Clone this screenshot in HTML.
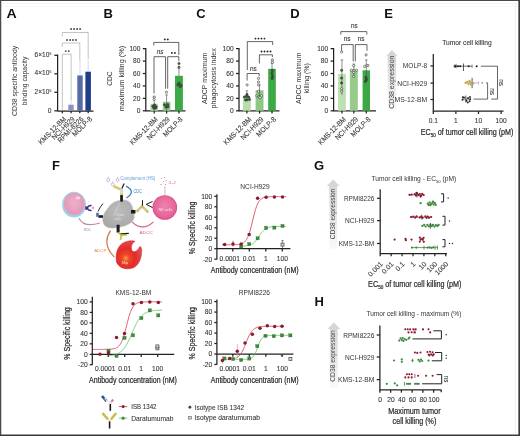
<!DOCTYPE html>
<html><head><meta charset="utf-8"><style>
html,body{margin:0;padding:0;background:#fff;}
svg{display:block;will-change:transform;}
text{font-family:"Liberation Sans", sans-serif;}
</style></head><body>
<svg width="520" height="436" viewBox="0 0 520 436" font-family='"Liberation Sans", sans-serif'>
<rect x="0.00" y="0.00" width="520.00" height="436.00" fill="#fff"/>
<line x1="1.00" y1="3.50" x2="517.00" y2="3.50" stroke="#f1f1f1" stroke-width="0.8"/>
<line x1="1.00" y1="6.20" x2="517.00" y2="6.20" stroke="#f6f6f6" stroke-width="0.8"/>
<line x1="515.50" y1="3.00" x2="515.50" y2="434.00" stroke="#ececec" stroke-width="0.8"/>
<line x1="0.00" y1="0.50" x2="520.00" y2="0.50" stroke="#4a4a4a" stroke-width="1.2"/>
<line x1="0.60" y1="0.00" x2="0.60" y2="436.00" stroke="#4a4a4a" stroke-width="1.3"/>
<line x1="519.20" y1="0.00" x2="519.20" y2="436.00" stroke="#3a3a3a" stroke-width="1.7"/>
<line x1="0.00" y1="435.30" x2="520.00" y2="435.30" stroke="#3a3a3a" stroke-width="1.5"/>
<text x="6.4" y="17.7" font-size="13" font-weight="bold" fill="#111" stroke="none" textLength="10.2" lengthAdjust="spacingAndGlyphs">A</text>
<text x="0" y="0" font-size="7.6" fill="#333" stroke="#333" stroke-width="0.0" text-anchor="middle" transform="translate(17.20 80.90) rotate(-90) scale(0.9031 1)">CD38 specific antibody</text>
<text x="0" y="0" font-size="7.6" fill="#333" stroke="#333" stroke-width="0.0" text-anchor="middle" transform="translate(27.00 81.00) rotate(-90) scale(0.8936 1)">binding capacity</text>
<line x1="57.60" y1="54.50" x2="57.60" y2="111.30" stroke="#222" stroke-width="1.25"/>
<line x1="54.30" y1="110.80" x2="57.60" y2="110.80" stroke="#222" stroke-width="1.25"/>
<text x="51.30" y="113.18" font-size="6.6" fill="#333" stroke="#333" stroke-width="0.08" text-anchor="end">0</text>
<line x1="54.30" y1="92.30" x2="57.60" y2="92.30" stroke="#222" stroke-width="1.25"/>
<text x="51.4" y="93.90" font-size="6.6" fill="#333" stroke="#333" stroke-width="0.08" text-anchor="end">2×10<tspan font-size="3.5" dy="-2.2">5</tspan></text>
<line x1="54.30" y1="73.80" x2="57.60" y2="73.80" stroke="#222" stroke-width="1.25"/>
<text x="51.4" y="75.40" font-size="6.6" fill="#333" stroke="#333" stroke-width="0.08" text-anchor="end">4×10<tspan font-size="3.5" dy="-2.2">5</tspan></text>
<line x1="54.30" y1="55.30" x2="57.60" y2="55.30" stroke="#222" stroke-width="1.25"/>
<text x="51.4" y="56.90" font-size="6.6" fill="#333" stroke="#333" stroke-width="0.08" text-anchor="end">6×10<tspan font-size="3.5" dy="-2.2">5</tspan></text>
<line x1="57.60" y1="111.00" x2="93.50" y2="111.00" stroke="#222" stroke-width="1.25"/>
<line x1="62.30" y1="111.00" x2="62.30" y2="113.30" stroke="#222" stroke-width="1.25"/>
<line x1="71.10" y1="111.00" x2="71.10" y2="113.30" stroke="#222" stroke-width="1.25"/>
<line x1="79.80" y1="111.00" x2="79.80" y2="113.30" stroke="#222" stroke-width="1.25"/>
<line x1="88.20" y1="111.00" x2="88.20" y2="113.30" stroke="#222" stroke-width="1.25"/>
<path d="M62.30,110.50 L62.30,54.20 L71.10,54.20 L71.10,100.00" stroke="#9a9a9a" stroke-width="0.6" fill="none"/>
<path d="M62.30,47.00 L62.30,43.00 L79.80,43.00 L79.80,60.50" stroke="#9a9a9a" stroke-width="0.6" fill="none"/>
<path d="M62.30,36.50 L62.30,32.50 L88.20,32.50 L88.20,59.00" stroke="#9a9a9a" stroke-width="0.6" fill="none"/>
<circle cx="65.75" cy="51.10" r="0.95" fill="#444"/>
<circle cx="68.75" cy="51.10" r="0.95" fill="#444"/>
<circle cx="67.00" cy="40.00" r="0.95" fill="#444"/>
<circle cx="70.00" cy="40.00" r="0.95" fill="#444"/>
<circle cx="73.00" cy="40.00" r="0.95" fill="#444"/>
<circle cx="76.00" cy="40.00" r="0.95" fill="#444"/>
<circle cx="71.10" cy="29.00" r="0.95" fill="#444"/>
<circle cx="74.10" cy="29.00" r="0.95" fill="#444"/>
<circle cx="77.10" cy="29.00" r="0.95" fill="#444"/>
<circle cx="80.10" cy="29.00" r="0.95" fill="#444"/>
<rect x="68.30" y="104.70" width="5.40" height="6.10" fill="#8c94bc"/>
<rect x="77.30" y="75.40" width="5.40" height="35.40" fill="#5a6aa6"/>
<rect x="85.40" y="71.70" width="5.50" height="39.10" fill="#1f3d86"/>
<line x1="71.20" y1="104.30" x2="71.20" y2="99.50" stroke="#c8cce0" stroke-width="0.6"/>
<line x1="80.00" y1="75.40" x2="80.00" y2="60.00" stroke="#c8cce0" stroke-width="0.7"/>
<line x1="88.20" y1="71.70" x2="88.20" y2="60.00" stroke="#c8cce0" stroke-width="0.7"/>
<text x="66.60" y="119.60" font-size="7.3" fill="#333" stroke="#333" stroke-width="0.08" text-anchor="end" transform="rotate(-45 66.60 119.60)" textLength="35.94" lengthAdjust="spacingAndGlyphs">KMS-12-BM</text>
<text x="75.30" y="119.60" font-size="7.3" fill="#333" stroke="#333" stroke-width="0.08" text-anchor="end" transform="rotate(-45 75.30 119.60)" textLength="29.34" lengthAdjust="spacingAndGlyphs">NCI-H929</text>
<text x="84.00" y="119.60" font-size="7.3" fill="#333" stroke="#333" stroke-width="0.08" text-anchor="end" transform="rotate(-45 84.00 119.60)" textLength="33.38" lengthAdjust="spacingAndGlyphs">RPMI-8226</text>
<text x="92.50" y="119.60" font-size="7.3" fill="#333" stroke="#333" stroke-width="0.08" text-anchor="end" transform="rotate(-45 92.50 119.60)" textLength="24.57" lengthAdjust="spacingAndGlyphs">MOLP-8</text>
<text x="103.4" y="17.7" font-size="13" font-weight="bold" fill="#111" stroke="none">B</text>
<text x="0" y="0" font-size="8.0" fill="#333" stroke="#333" stroke-width="0.0" text-anchor="middle" transform="translate(112.40 78.60) rotate(-90) scale(0.8194 1)">CDC</text>
<text x="0" y="0" font-size="8.0" fill="#333" stroke="#333" stroke-width="0.0" text-anchor="middle" transform="translate(124.30 78.60) rotate(-90) scale(0.9153 1)">maximum killing (%)</text>
<line x1="145.80" y1="48.00" x2="145.80" y2="111.30" stroke="#222" stroke-width="1.25"/>
<line x1="142.80" y1="110.80" x2="145.80" y2="110.80" stroke="#222" stroke-width="1.25"/>
<text x="140.40" y="113.18" font-size="6.6" fill="#333" stroke="#333" stroke-width="0.08" text-anchor="end">0</text>
<line x1="142.80" y1="98.37" x2="145.80" y2="98.37" stroke="#222" stroke-width="1.25"/>
<text x="140.40" y="100.75" font-size="6.6" fill="#333" stroke="#333" stroke-width="0.08" text-anchor="end">20</text>
<line x1="142.80" y1="85.94" x2="145.80" y2="85.94" stroke="#222" stroke-width="1.25"/>
<text x="140.40" y="88.32" font-size="6.6" fill="#333" stroke="#333" stroke-width="0.08" text-anchor="end">40</text>
<line x1="142.80" y1="73.51" x2="145.80" y2="73.51" stroke="#222" stroke-width="1.25"/>
<text x="140.40" y="75.89" font-size="6.6" fill="#333" stroke="#333" stroke-width="0.08" text-anchor="end">60</text>
<line x1="142.80" y1="61.08" x2="145.80" y2="61.08" stroke="#222" stroke-width="1.25"/>
<text x="140.40" y="63.46" font-size="6.6" fill="#333" stroke="#333" stroke-width="0.08" text-anchor="end">80</text>
<line x1="142.80" y1="48.65" x2="145.80" y2="48.65" stroke="#222" stroke-width="1.25"/>
<text x="140.40" y="51.03" font-size="6.6" fill="#333" stroke="#333" stroke-width="0.08" text-anchor="end">100</text>
<line x1="145.80" y1="110.80" x2="185.50" y2="110.80" stroke="#222" stroke-width="1.25"/>
<rect x="150.50" y="103.80" width="7.40" height="7.00" fill="#a9d7a0"/>
<line x1="154.20" y1="96.30" x2="154.20" y2="110.00" stroke="#444" stroke-width="0.6"/>
<line x1="152.90" y1="96.30" x2="155.50" y2="96.30" stroke="#444" stroke-width="0.6"/>
<line x1="154.20" y1="110.80" x2="154.20" y2="113.60" stroke="#222" stroke-width="1.25"/>
<rect x="162.80" y="101.80" width="7.60" height="9.00" fill="#8dc983"/>
<line x1="166.60" y1="94.90" x2="166.60" y2="110.00" stroke="#444" stroke-width="0.6"/>
<line x1="165.30" y1="94.90" x2="167.90" y2="94.90" stroke="#444" stroke-width="0.6"/>
<line x1="166.60" y1="110.80" x2="166.60" y2="113.60" stroke="#222" stroke-width="1.25"/>
<rect x="175.00" y="75.80" width="7.90" height="35.00" fill="#3ba944"/>
<line x1="178.95" y1="68.00" x2="178.95" y2="76.00" stroke="#444" stroke-width="0.6"/>
<line x1="177.65" y1="68.00" x2="180.25" y2="68.00" stroke="#444" stroke-width="0.6"/>
<line x1="178.95" y1="110.80" x2="178.95" y2="113.60" stroke="#222" stroke-width="1.25"/>
<path d="M153.80,45.50 L153.80,42.40 L178.80,42.40 L178.80,55.00" stroke="#333" stroke-width="0.75" fill="none"/>
<circle cx="164.80" cy="39.40" r="0.95" fill="#222"/>
<circle cx="167.80" cy="39.40" r="0.95" fill="#222"/>
<path d="M154.00,93.50 L154.00,56.70 L165.60,56.70 L165.60,88.70" stroke="#333" stroke-width="0.75" fill="none"/>
<text x="160.00" y="53.90" font-size="6.4" fill="#333" stroke="#333" stroke-width="0.08" text-anchor="middle" font-style="italic">ns</text>
<path d="M167.70,88.70 L167.70,56.70 L178.80,56.70 L178.80,61.20" stroke="#333" stroke-width="0.75" fill="none"/>
<circle cx="171.90" cy="52.90" r="0.95" fill="#222"/>
<circle cx="174.90" cy="52.90" r="0.95" fill="#222"/>
<circle cx="152.80" cy="106.20" r="1.15" fill="#3a5a3a" stroke="#333" stroke-width="0.55"/>
<circle cx="154.60" cy="105.00" r="1.15" fill="#3a5a3a" stroke="#333" stroke-width="0.55"/>
<circle cx="156.20" cy="106.80" r="1.15" fill="#3a5a3a" stroke="#333" stroke-width="0.55"/>
<circle cx="153.80" cy="108.00" r="1.15" fill="#3a5a3a" stroke="#333" stroke-width="0.55"/>
<circle cx="155.50" cy="108.20" r="1.15" fill="#3a5a3a" stroke="#333" stroke-width="0.55"/>
<circle cx="154.20" cy="97.20" r="1.15" fill="#e8f0e6" stroke="#333" stroke-width="0.55"/>
<circle cx="154.20" cy="99.50" r="1.15" fill="#e8f0e6" stroke="#333" stroke-width="0.55"/>
<circle cx="164.50" cy="104.80" r="1.15" fill="#3a5a3a" stroke="#333" stroke-width="0.55"/>
<circle cx="167.80" cy="104.60" r="1.15" fill="#3a5a3a" stroke="#333" stroke-width="0.55"/>
<circle cx="166.00" cy="107.00" r="1.15" fill="#3a5a3a" stroke="#333" stroke-width="0.55"/>
<circle cx="168.00" cy="106.80" r="1.15" fill="#3a5a3a" stroke="#333" stroke-width="0.55"/>
<circle cx="166.40" cy="92.20" r="1.15" fill="#e8f0e6" stroke="#333" stroke-width="0.55"/>
<circle cx="178.00" cy="84.80" r="1.15" fill="#3a5a3a" stroke="#333" stroke-width="0.55"/>
<circle cx="180.20" cy="86.60" r="1.15" fill="#3a5a3a" stroke="#333" stroke-width="0.55"/>
<circle cx="179.00" cy="83.20" r="1.15" fill="#3a5a3a" stroke="#333" stroke-width="0.55"/>
<circle cx="181.00" cy="85.50" r="1.15" fill="#3a5a3a" stroke="#333" stroke-width="0.55"/>
<circle cx="179.00" cy="63.60" r="1.15" fill="#555" stroke="#333" stroke-width="0.55"/>
<circle cx="179.00" cy="67.20" r="1.15" fill="#777" stroke="#333" stroke-width="0.55"/>
<text x="158.20" y="119.80" font-size="7.3" fill="#333" stroke="#333" stroke-width="0.08" text-anchor="end" transform="rotate(-45 158.20 119.80)" textLength="35.94" lengthAdjust="spacingAndGlyphs">KMS-12-BM</text>
<text x="170.40" y="119.80" font-size="7.3" fill="#333" stroke="#333" stroke-width="0.08" text-anchor="end" transform="rotate(-45 170.40 119.80)" textLength="29.34" lengthAdjust="spacingAndGlyphs">NCI-H929</text>
<text x="183.20" y="119.80" font-size="7.3" fill="#333" stroke="#333" stroke-width="0.08" text-anchor="end" transform="rotate(-45 183.20 119.80)" textLength="24.57" lengthAdjust="spacingAndGlyphs">MOLP-8</text>
<text x="196.20000000000002" y="17.7" font-size="13" font-weight="bold" fill="#111" stroke="none">C</text>
<text x="0" y="0" font-size="8.0" fill="#333" stroke="#333" stroke-width="0.0" text-anchor="middle" transform="translate(206.60 78.30) rotate(-90) scale(0.8733 1)">ADCP maximum</text>
<text x="0" y="0" font-size="8.0" fill="#333" stroke="#333" stroke-width="0.0" text-anchor="middle" transform="translate(215.60 78.30) rotate(-90) scale(0.8862 1)">phagocytosis index</text>
<line x1="239.00" y1="48.00" x2="239.00" y2="111.30" stroke="#222" stroke-width="1.25"/>
<line x1="236.00" y1="110.80" x2="239.00" y2="110.80" stroke="#222" stroke-width="1.25"/>
<text x="233.60" y="113.18" font-size="6.6" fill="#333" stroke="#333" stroke-width="0.08" text-anchor="end">0</text>
<line x1="236.00" y1="98.37" x2="239.00" y2="98.37" stroke="#222" stroke-width="1.25"/>
<text x="233.60" y="100.75" font-size="6.6" fill="#333" stroke="#333" stroke-width="0.08" text-anchor="end">20</text>
<line x1="236.00" y1="85.94" x2="239.00" y2="85.94" stroke="#222" stroke-width="1.25"/>
<text x="233.60" y="88.32" font-size="6.6" fill="#333" stroke="#333" stroke-width="0.08" text-anchor="end">40</text>
<line x1="236.00" y1="73.51" x2="239.00" y2="73.51" stroke="#222" stroke-width="1.25"/>
<text x="233.60" y="75.89" font-size="6.6" fill="#333" stroke="#333" stroke-width="0.08" text-anchor="end">60</text>
<line x1="236.00" y1="61.08" x2="239.00" y2="61.08" stroke="#222" stroke-width="1.25"/>
<text x="233.60" y="63.46" font-size="6.6" fill="#333" stroke="#333" stroke-width="0.08" text-anchor="end">80</text>
<line x1="236.00" y1="48.65" x2="239.00" y2="48.65" stroke="#222" stroke-width="1.25"/>
<text x="233.60" y="51.03" font-size="6.6" fill="#333" stroke="#333" stroke-width="0.08" text-anchor="end">100</text>
<line x1="239.00" y1="110.80" x2="279.50" y2="110.80" stroke="#222" stroke-width="1.25"/>
<rect x="242.90" y="96.60" width="7.90" height="14.20" fill="#b7ddab"/>
<line x1="246.85" y1="90.80" x2="246.85" y2="100.00" stroke="#444" stroke-width="0.6"/>
<line x1="245.55" y1="90.80" x2="248.15" y2="90.80" stroke="#444" stroke-width="0.6"/>
<line x1="246.85" y1="110.80" x2="246.85" y2="113.60" stroke="#222" stroke-width="1.25"/>
<rect x="255.60" y="90.30" width="7.90" height="20.50" fill="#8dc983"/>
<line x1="259.55" y1="85.00" x2="259.55" y2="96.00" stroke="#444" stroke-width="0.6"/>
<line x1="258.25" y1="85.00" x2="260.85" y2="85.00" stroke="#444" stroke-width="0.6"/>
<line x1="259.55" y1="110.80" x2="259.55" y2="113.60" stroke="#222" stroke-width="1.25"/>
<rect x="268.20" y="68.80" width="7.60" height="42.00" fill="#3ba944"/>
<line x1="272.00" y1="63.00" x2="272.00" y2="80.00" stroke="#444" stroke-width="0.6"/>
<line x1="270.70" y1="63.00" x2="273.30" y2="63.00" stroke="#444" stroke-width="0.6"/>
<line x1="272.00" y1="110.80" x2="272.00" y2="113.60" stroke="#222" stroke-width="1.25"/>
<path d="M247.30,70.00 L247.30,41.60 L272.70,41.60 L272.70,45.00" stroke="#333" stroke-width="0.75" fill="none"/>
<circle cx="255.45" cy="38.60" r="0.95" fill="#222"/>
<circle cx="258.45" cy="38.60" r="0.95" fill="#222"/>
<circle cx="261.45" cy="38.60" r="0.95" fill="#222"/>
<circle cx="264.45" cy="38.60" r="0.95" fill="#222"/>
<path d="M259.40,63.50 L259.40,54.80 L272.40,54.80 L272.40,57.10" stroke="#333" stroke-width="0.75" fill="none"/>
<circle cx="261.50" cy="51.50" r="0.95" fill="#222"/>
<circle cx="264.50" cy="51.50" r="0.95" fill="#222"/>
<circle cx="267.50" cy="51.50" r="0.95" fill="#222"/>
<circle cx="270.50" cy="51.50" r="0.95" fill="#222"/>
<path d="M247.10,80.60 L247.10,73.50 L259.20,73.50 L259.20,76.30" stroke="#333" stroke-width="0.75" fill="none"/>
<text x="253.40" y="71.10" font-size="6.4" fill="#333" stroke="#333" stroke-width="0.08" text-anchor="middle">ns</text>
<circle cx="244.50" cy="97.00" r="1.15" fill="#3a5a3a" stroke="#333" stroke-width="0.55"/>
<circle cx="246.50" cy="96.20" r="1.15" fill="#3a5a3a" stroke="#333" stroke-width="0.55"/>
<circle cx="248.60" cy="97.00" r="1.15" fill="#3a5a3a" stroke="#333" stroke-width="0.55"/>
<circle cx="247.20" cy="99.80" r="1.15" fill="#3a5a3a" stroke="#333" stroke-width="0.55"/>
<circle cx="245.60" cy="100.00" r="1.15" fill="#3a5a3a" stroke="#333" stroke-width="0.55"/>
<circle cx="249.50" cy="99.50" r="1.15" fill="#3a5a3a" stroke="#333" stroke-width="0.55"/>
<circle cx="247.00" cy="94.50" r="1.15" fill="#3a5a3a" stroke="#333" stroke-width="0.55"/>
<circle cx="247.10" cy="84.90" r="1.15" fill="#e8f0e6" stroke="#333" stroke-width="0.55"/>
<circle cx="258.50" cy="78.40" r="1.15" fill="#e8f0e6" stroke="#333" stroke-width="0.55"/>
<circle cx="258.50" cy="82.00" r="1.15" fill="#e8f0e6" stroke="#333" stroke-width="0.55"/>
<circle cx="258.50" cy="84.90" r="1.15" fill="#e8f0e6" stroke="#333" stroke-width="0.55"/>
<circle cx="258.50" cy="91.30" r="1.15" fill="#e8f0e6" stroke="#333" stroke-width="0.55"/>
<circle cx="256.80" cy="95.80" r="1.15" fill="#e8f0e6" stroke="#333" stroke-width="0.55"/>
<circle cx="259.00" cy="96.80" r="1.15" fill="#e8f0e6" stroke="#333" stroke-width="0.55"/>
<circle cx="261.50" cy="95.80" r="1.15" fill="#e8f0e6" stroke="#333" stroke-width="0.55"/>
<circle cx="260.20" cy="97.50" r="1.15" fill="#e8f0e6" stroke="#333" stroke-width="0.55"/>
<circle cx="272.40" cy="60.00" r="1.15" fill="#e8f0e6" stroke="#333" stroke-width="0.55"/>
<circle cx="272.40" cy="62.30" r="1.15" fill="#e8f0e6" stroke="#333" stroke-width="0.55"/>
<circle cx="272.40" cy="70.50" r="1.15" fill="#3a5a3a" stroke="#333" stroke-width="0.55"/>
<circle cx="272.00" cy="73.50" r="1.15" fill="#3a5a3a" stroke="#333" stroke-width="0.55"/>
<circle cx="272.60" cy="76.50" r="1.15" fill="#3a5a3a" stroke="#333" stroke-width="0.55"/>
<circle cx="272.20" cy="78.40" r="1.15" fill="#3a5a3a" stroke="#333" stroke-width="0.55"/>
<text x="252.00" y="119.80" font-size="7.3" fill="#333" stroke="#333" stroke-width="0.08" text-anchor="end" transform="rotate(-45 252.00 119.80)" textLength="35.94" lengthAdjust="spacingAndGlyphs">KMS-12-BM</text>
<text x="264.20" y="119.80" font-size="7.3" fill="#333" stroke="#333" stroke-width="0.08" text-anchor="end" transform="rotate(-45 264.20 119.80)" textLength="29.34" lengthAdjust="spacingAndGlyphs">NCI-H929</text>
<text x="276.50" y="119.80" font-size="7.3" fill="#333" stroke="#333" stroke-width="0.08" text-anchor="end" transform="rotate(-45 276.50 119.80)" textLength="24.57" lengthAdjust="spacingAndGlyphs">MOLP-8</text>
<text x="290.2" y="17.7" font-size="13" font-weight="bold" fill="#111" stroke="none">D</text>
<text x="0" y="0" font-size="8.0" fill="#333" stroke="#333" stroke-width="0.0" text-anchor="middle" transform="translate(300.50 78.30) rotate(-90) scale(0.8647 1)">ADCC maximum</text>
<text x="0" y="0" font-size="8.0" fill="#333" stroke="#333" stroke-width="0.0" text-anchor="middle" transform="translate(309.40 78.30) rotate(-90) scale(0.8797 1)">killing (%)</text>
<line x1="333.60" y1="48.00" x2="333.60" y2="111.30" stroke="#222" stroke-width="1.25"/>
<line x1="330.60" y1="110.80" x2="333.60" y2="110.80" stroke="#222" stroke-width="1.25"/>
<text x="328.20" y="113.18" font-size="6.6" fill="#333" stroke="#333" stroke-width="0.08" text-anchor="end">0</text>
<line x1="330.60" y1="98.37" x2="333.60" y2="98.37" stroke="#222" stroke-width="1.25"/>
<text x="328.20" y="100.75" font-size="6.6" fill="#333" stroke="#333" stroke-width="0.08" text-anchor="end">20</text>
<line x1="330.60" y1="85.94" x2="333.60" y2="85.94" stroke="#222" stroke-width="1.25"/>
<text x="328.20" y="88.32" font-size="6.6" fill="#333" stroke="#333" stroke-width="0.08" text-anchor="end">40</text>
<line x1="330.60" y1="73.51" x2="333.60" y2="73.51" stroke="#222" stroke-width="1.25"/>
<text x="328.20" y="75.89" font-size="6.6" fill="#333" stroke="#333" stroke-width="0.08" text-anchor="end">60</text>
<line x1="330.60" y1="61.08" x2="333.60" y2="61.08" stroke="#222" stroke-width="1.25"/>
<text x="328.20" y="63.46" font-size="6.6" fill="#333" stroke="#333" stroke-width="0.08" text-anchor="end">80</text>
<line x1="330.60" y1="48.65" x2="333.60" y2="48.65" stroke="#222" stroke-width="1.25"/>
<text x="328.20" y="51.03" font-size="6.6" fill="#333" stroke="#333" stroke-width="0.08" text-anchor="end">100</text>
<line x1="333.60" y1="110.80" x2="376.00" y2="110.80" stroke="#222" stroke-width="1.25"/>
<rect x="338.00" y="74.00" width="7.90" height="36.80" fill="#bfe0b3"/>
<line x1="341.95" y1="59.90" x2="341.95" y2="95.00" stroke="#444" stroke-width="0.6"/>
<line x1="340.65" y1="59.90" x2="343.25" y2="59.90" stroke="#444" stroke-width="0.6"/>
<line x1="341.95" y1="110.80" x2="341.95" y2="113.60" stroke="#222" stroke-width="1.25"/>
<rect x="349.90" y="70.10" width="7.90" height="40.70" fill="#96cb89"/>
<line x1="353.85" y1="64.00" x2="353.85" y2="75.00" stroke="#444" stroke-width="0.6"/>
<line x1="352.55" y1="64.00" x2="355.15" y2="64.00" stroke="#444" stroke-width="0.6"/>
<line x1="353.85" y1="110.80" x2="353.85" y2="113.60" stroke="#222" stroke-width="1.25"/>
<rect x="362.60" y="70.30" width="7.40" height="40.50" fill="#3aa845"/>
<line x1="366.30" y1="59.90" x2="366.30" y2="82.00" stroke="#444" stroke-width="0.6"/>
<line x1="365.00" y1="59.90" x2="367.60" y2="59.90" stroke="#444" stroke-width="0.6"/>
<line x1="366.30" y1="110.80" x2="366.30" y2="113.60" stroke="#222" stroke-width="1.25"/>
<path d="M340.80,34.60 L340.80,31.60 L366.80,31.60 L366.80,34.60" stroke="#333" stroke-width="0.75" fill="none"/>
<text x="354.30" y="28.20" font-size="6.4" fill="#333" stroke="#333" stroke-width="0.08" text-anchor="middle">ns</text>
<path d="M341.60,52.40 L341.60,44.60 L353.20,44.60 L353.20,61.50" stroke="#333" stroke-width="0.75" fill="none"/>
<text x="347.20" y="41.40" font-size="6.4" fill="#333" stroke="#333" stroke-width="0.08" text-anchor="middle">ns</text>
<path d="M355.30,61.50 L355.30,44.60 L367.00,44.60 L367.00,50.80" stroke="#333" stroke-width="0.75" fill="none"/>
<text x="361.00" y="41.40" font-size="6.4" fill="#333" stroke="#333" stroke-width="0.08" text-anchor="middle">ns</text>
<circle cx="341.60" cy="51.90" r="1.15" fill="#e8f0e6" stroke="#333" stroke-width="0.55"/>
<circle cx="341.60" cy="70.30" r="1.15" fill="#3a5a3a" stroke="#333" stroke-width="0.55"/>
<circle cx="341.60" cy="78.10" r="1.15" fill="#3a5a3a" stroke="#333" stroke-width="0.55"/>
<circle cx="341.60" cy="83.00" r="1.15" fill="#3a5a3a" stroke="#333" stroke-width="0.55"/>
<circle cx="341.60" cy="88.80" r="1.15" fill="#e8f0e6" stroke="#333" stroke-width="0.55"/>
<circle cx="341.60" cy="91.30" r="1.15" fill="#e8f0e6" stroke="#333" stroke-width="0.55"/>
<circle cx="353.70" cy="65.70" r="1.15" fill="#e8f0e6" stroke="#333" stroke-width="0.55"/>
<circle cx="351.50" cy="70.30" r="1.15" fill="#e8f0e6" stroke="#333" stroke-width="0.55"/>
<circle cx="354.00" cy="70.30" r="1.15" fill="#e8f0e6" stroke="#333" stroke-width="0.55"/>
<circle cx="356.50" cy="70.30" r="1.15" fill="#e8f0e6" stroke="#333" stroke-width="0.55"/>
<circle cx="353.70" cy="72.50" r="1.15" fill="#e8f0e6" stroke="#333" stroke-width="0.55"/>
<circle cx="353.70" cy="76.40" r="1.15" fill="#e8f0e6" stroke="#333" stroke-width="0.55"/>
<circle cx="366.10" cy="54.90" r="1.15" fill="#e8f0e6" stroke="#333" stroke-width="0.55"/>
<circle cx="366.60" cy="65.70" r="1.15" fill="#e8f0e6" stroke="#333" stroke-width="0.55"/>
<circle cx="364.60" cy="66.50" r="1.15" fill="#e8f0e6" stroke="#333" stroke-width="0.55"/>
<circle cx="368.00" cy="65.50" r="1.15" fill="#e8f0e6" stroke="#333" stroke-width="0.55"/>
<circle cx="366.00" cy="77.50" r="1.15" fill="#3a5a3a" stroke="#333" stroke-width="0.55"/>
<circle cx="366.50" cy="79.50" r="1.15" fill="#3a5a3a" stroke="#333" stroke-width="0.55"/>
<circle cx="365.50" cy="81.40" r="1.15" fill="#3a5a3a" stroke="#333" stroke-width="0.55"/>
<text x="346.50" y="119.80" font-size="7.3" fill="#333" stroke="#333" stroke-width="0.08" text-anchor="end" transform="rotate(-45 346.50 119.80)" textLength="35.94" lengthAdjust="spacingAndGlyphs">KMS-12-BM</text>
<text x="358.70" y="119.80" font-size="7.3" fill="#333" stroke="#333" stroke-width="0.08" text-anchor="end" transform="rotate(-45 358.70 119.80)" textLength="29.34" lengthAdjust="spacingAndGlyphs">NCI-H929</text>
<text x="371.00" y="119.80" font-size="7.3" fill="#333" stroke="#333" stroke-width="0.08" text-anchor="end" transform="rotate(-45 371.00 119.80)" textLength="24.57" lengthAdjust="spacingAndGlyphs">MOLP-8</text>
<text x="384.2" y="17.7" font-size="13" font-weight="bold" fill="#111" stroke="none">E</text>
<defs><linearGradient id="ag1" x1="0" y1="0" x2="0" y2="1"><stop offset="0" stop-color="#d4d4d4"/><stop offset="0.5" stop-color="#e4e4e4"/><stop offset="1" stop-color="#fafafa"/></linearGradient></defs>
<path d="M391.90,50.10 L397.50,56.10 L396.10,56.10 L396.10,111.00 L387.70,111.00 L387.70,56.10 L386.30,56.10 Z" fill="url(#ag1)"/>
<text x="0" y="0" font-size="7.0" fill="#444" stroke="#444" stroke-width="0.0" text-anchor="middle" transform="translate(394.20 82.20) rotate(-90) scale(0.9909 1)">CD38 expression</text>
<line x1="433.30" y1="54.00" x2="433.30" y2="111.70" stroke="#222" stroke-width="1.25"/>
<line x1="433.30" y1="111.20" x2="503.50" y2="111.20" stroke="#222" stroke-width="1.25"/>
<line x1="430.50" y1="65.90" x2="433.30" y2="65.90" stroke="#222" stroke-width="1.25"/>
<text x="0" y="0" font-size="6.9" fill="#333" stroke="#333" stroke-width="0.0" text-anchor="end" transform="translate(427.20 68.40) scale(0.9498 1)">MOLP-8</text>
<line x1="430.50" y1="83.10" x2="433.30" y2="83.10" stroke="#222" stroke-width="1.25"/>
<text x="0" y="0" font-size="6.9" fill="#333" stroke="#333" stroke-width="0.0" text-anchor="end" transform="translate(427.20 85.60) scale(0.9749 1)">NCI-H929</text>
<line x1="430.50" y1="99.50" x2="433.30" y2="99.50" stroke="#222" stroke-width="1.25"/>
<text x="0" y="0" font-size="6.9" fill="#333" stroke="#333" stroke-width="0.0" text-anchor="end" transform="translate(427.20 102.00) scale(0.9888 1)">MS-12-BM</text>
<line x1="433.30" y1="111.20" x2="433.30" y2="114.00" stroke="#222" stroke-width="1.25"/>
<text x="433.30" y="122.58" font-size="6.6" fill="#333" stroke="#333" stroke-width="0.08" text-anchor="middle">0.1</text>
<line x1="455.90" y1="111.20" x2="455.90" y2="114.00" stroke="#222" stroke-width="1.25"/>
<text x="455.90" y="122.58" font-size="6.6" fill="#333" stroke="#333" stroke-width="0.08" text-anchor="middle">1</text>
<line x1="478.50" y1="111.20" x2="478.50" y2="114.00" stroke="#222" stroke-width="1.25"/>
<text x="478.50" y="122.58" font-size="6.6" fill="#333" stroke="#333" stroke-width="0.08" text-anchor="middle">10</text>
<line x1="501.10" y1="111.20" x2="501.10" y2="114.00" stroke="#222" stroke-width="1.25"/>
<text x="501.10" y="122.58" font-size="6.6" fill="#333" stroke="#333" stroke-width="0.08" text-anchor="middle">100</text>
<text x="466.90" y="44.87" font-size="6.3" fill="#333" stroke="#333" stroke-width="0.08" text-anchor="middle" textLength="49.5" lengthAdjust="spacingAndGlyphs">Tumor cell killing</text>
<text x="0" y="0" fill="#2a2a2a" stroke="#2a2a2a" stroke-width="0.22" transform="translate(420.80 135.20) scale(0.8350 1)"><tspan font-size="8.6" dy="0">EC</tspan><tspan font-size="5.4" dy="1.7">50</tspan><tspan font-size="8.6" dy="-1.7"> of tumor cell killing (pM)</tspan></text>
<line x1="454.20" y1="66.20" x2="472.10" y2="66.20" stroke="#333" stroke-width="0.7"/>
<line x1="463.50" y1="63.50" x2="463.50" y2="71.00" stroke="#333" stroke-width="0.8"/>
<line x1="472.10" y1="64.60" x2="472.10" y2="67.80" stroke="#333" stroke-width="0.6"/>
<line x1="454.20" y1="64.60" x2="454.20" y2="67.80" stroke="#333" stroke-width="0.6"/>
<circle cx="455.80" cy="66.20" r="1.05" fill="#222"/>
<circle cx="458.00" cy="66.20" r="1.05" fill="#222"/>
<circle cx="460.20" cy="66.20" r="1.05" fill="#222"/>
<circle cx="468.70" cy="66.20" r="1.05" fill="#222"/>
<circle cx="476.70" cy="66.20" r="1.05" fill="#222"/>
<path d="M456.5,64.4 L454.0,66.2 L456.5,68.0" stroke="#222" stroke-width="0.8" fill="none"/>
<line x1="465.20" y1="82.90" x2="478.50" y2="82.90" stroke="#9a9ac0" stroke-width="0.7"/>
<line x1="472.10" y1="77.80" x2="472.10" y2="88.20" stroke="#333" stroke-width="0.8"/>
<line x1="478.50" y1="81.20" x2="478.50" y2="84.60" stroke="#9a9ac0" stroke-width="0.6"/>
<circle cx="465.60" cy="82.90" r="1.15" fill="#c0a840"/>
<circle cx="467.20" cy="81.80" r="1.15" fill="#c0a840"/>
<circle cx="468.60" cy="84.00" r="1.15" fill="#c0a840"/>
<circle cx="470.20" cy="82.40" r="1.15" fill="#c0a840"/>
<circle cx="473.30" cy="83.60" r="1.15" fill="#c0a840"/>
<circle cx="471.00" cy="84.60" r="1.15" fill="#c0a840"/>
<circle cx="469.50" cy="81.00" r="1.15" fill="#c0a840"/>
<circle cx="482.20" cy="82.90" r="0.95" fill="#a8a860"/>
<line x1="462.30" y1="99.10" x2="470.40" y2="99.10" stroke="#333" stroke-width="0.7"/>
<line x1="465.80" y1="95.50" x2="465.80" y2="102.50" stroke="#333" stroke-width="0.8"/>
<circle cx="462.50" cy="99.80" r="0.95" fill="#223"/>
<circle cx="464.00" cy="97.50" r="0.95" fill="#223"/>
<circle cx="466.50" cy="100.70" r="0.95" fill="#223"/>
<circle cx="468.00" cy="98.00" r="0.95" fill="#223"/>
<circle cx="470.00" cy="97.00" r="0.95" fill="#223"/>
<circle cx="469.60" cy="101.20" r="0.95" fill="#223"/>
<circle cx="462.80" cy="97.30" r="0.95" fill="#223"/>
<circle cx="467.80" cy="102.40" r="0.95" fill="#223"/>
<circle cx="470.20" cy="99.20" r="0.95" fill="#223"/>
<path d="M480.8,66.2 L497.5,66.2 L497.5,99.1 L491.2,99.1" stroke="#333" stroke-width="0.75" fill="none"/>
<path d="M486.0,82.9 L487.6,82.9 L487.6,99.1 L473.5,99.1" stroke="#333" stroke-width="0.75" fill="none"/>
<text x="500.90" y="85.04" font-size="6.5" fill="#333" stroke="#333" stroke-width="0.08" text-anchor="middle" transform="rotate(90 500.90 82.70)">ns</text>
<text x="492.30" y="93.94" font-size="6.5" fill="#333" stroke="#333" stroke-width="0.08" text-anchor="middle" transform="rotate(90 492.30 91.60)">ns</text>
<text x="51.9" y="169.7" font-size="13" font-weight="bold" fill="#111" stroke="none">F</text>
<defs><radialGradient id="gcell" cx="0.5" cy="0.4" r="0.7"><stop offset="0" stop-color="#bcbcbc"/><stop offset="0.7" stop-color="#adadad"/><stop offset="1" stop-color="#a2a2a2"/></radialGradient><radialGradient id="gmac" cx="0.38" cy="0.62" r="0.6"><stop offset="0" stop-color="#f4a040"/><stop offset="0.22" stop-color="#ec4a28"/><stop offset="0.6" stop-color="#e42a2a"/><stop offset="1" stop-color="#e04a4a"/></radialGradient><radialGradient id="gpink" cx="0.5" cy="0.45" r="0.55"><stop offset="0" stop-color="#ee82ac"/><stop offset="0.8" stop-color="#e6689a"/><stop offset="1" stop-color="#e05a90"/></radialGradient><radialGradient id="gleft" cx="0.5" cy="0.45" r="0.6"><stop offset="0" stop-color="#eeb2cc"/><stop offset="0.8" stop-color="#e698b8"/><stop offset="1" stop-color="#d8a8c8"/></radialGradient></defs>
<ellipse cx="74.0" cy="204.7" rx="11.9" ry="12.9" fill="#98d4e6"/>
<ellipse cx="74.3" cy="204.0" rx="10.4" ry="11.3" fill="url(#gleft)"/>
<ellipse cx="78.0" cy="197.8" rx="2.4" ry="1.6" fill="#f6d2e2"/>
<path d="M91.6,205.6 Q87.6,205.4 87.6,208.0 Q87.6,210.6 91.6,210.4" stroke="#4a2a86" stroke-width="1.5" fill="none"/>
<rect x="85.20" y="206.40" width="2.20" height="3.40" fill="#4a2a86"/>
<path d="M93.0,206.6 L93.0,209.2 M91.8,207.9 L94.3,207.9" stroke="#d060b8" stroke-width="0.7" fill="none"/>
<path d="M78.9,218.2 Q84,228 99.9,223.0" stroke="#c488aa" stroke-width="1.2" fill="none"/>
<path d="M132.0,221.9 Q142.5,232 153.5,221.9" stroke="#d0628e" stroke-width="1.2" fill="none"/>
<path d="M110.6,230.7 Q101.5,244 114.4,257.2" stroke="#d8784a" stroke-width="1.2" fill="none"/>
<path d="M126.0,186.2 Q136.5,191.5 126.5,198.0" stroke="#3a82c2" stroke-width="1.3" fill="none"/>
<path d="M108.4,207.4 C110,204.5 113.5,201.8 117.7,200.7 C121,199.8 124,199.7 126.0,200.2 C128.2,200.8 129.8,201.9 130.6,203.3 C132.0,205.3 132.8,207.5 133.2,209.5 C134.0,212.5 134.6,215.5 134.2,217.8 C133.6,220.6 131.6,222.6 129.0,224.0 C126.2,225.6 123.4,226.6 120.8,227.0 C117.0,227.8 113.4,228.4 110.5,228.1 C107.6,227.8 105.4,226.6 104.3,225.0 C103.0,223.0 102.4,220.8 102.7,218.8 C103.0,216.0 104.0,213.4 105.3,211.6 C106.2,210.2 107.3,208.8 108.4,207.4 Z" stroke="#cfcfcf" stroke-width="0.6" fill="url(#gcell)"/>
<path d="M119.8,202.8 Q116.5,209 113.6,215.7" stroke="#dedede" stroke-width="0.6" fill="none"/>
<text x="115.5" y="216.2" font-size="3.1" fill="#e0e0e0" stroke="none">Tumor</text>
<text x="114.5" y="220.2" font-size="3.1" fill="#e0e0e0" stroke="none">cells</text>
<line x1="164.90" y1="186.50" x2="164.90" y2="195.00" stroke="#e8a0c0" stroke-width="0.9"/>
<circle cx="164.80" cy="207.50" r="12.30" fill="#d8508a"/>
<circle cx="164.80" cy="207.50" r="11.40" fill="url(#gpink)"/>
<text x="158.4" y="211.4" font-size="3.8" fill="#fde0ec" stroke="none">NK cells</text>
<circle cx="161.60" cy="178.20" r="0.50" fill="#d84c88"/>
<circle cx="164.40" cy="177.60" r="0.50" fill="#d84c88"/>
<circle cx="163.20" cy="181.80" r="0.50" fill="#d84c88"/>
<circle cx="161.00" cy="184.40" r="0.50" fill="#d84c88"/>
<circle cx="165.60" cy="184.60" r="0.50" fill="#d84c88"/>
<circle cx="166.20" cy="180.80" r="0.50" fill="#d84c88"/>
<text x="168.6" y="183.6" font-size="4.2" fill="#e46a96" stroke="none">IL-2</text>
<path d="M116.5,262 C115,252 118.5,245 124,242.5 C128,240.5 132,240.5 135,241.2 C131.5,243.5 130.5,247.5 132.0,250.5 C133.5,252.8 137.5,251.5 139.2,247.5 C140.2,245.8 141.0,246.5 141.4,248.5 C142.5,256 139.5,265 133.5,267.8 C127,270.2 119,268.5 116.5,262 Z" stroke="#d02020" stroke-width="0.5" fill="url(#gmac)"/>
<text x="122.0" y="264.0" font-size="4.2" fill="#ffe0c8" stroke="none">Mφ</text>
<rect x="120.20" y="195.00" width="2.70" height="6.60" fill="#1a1a1a"/>
<rect x="120.20" y="192.60" width="2.70" height="2.50" fill="#d8d050"/>
<rect x="120.20" y="188.40" width="2.70" height="4.30" fill="#d4d4d4"/>
<path d="M120.4,189.2 L113.6,186.2" stroke="#d6cc6a" stroke-width="2.6" fill="none"/>
<path d="M121.8,188.6 L124.2,183.4" stroke="#1a1a1a" stroke-width="1.2" fill="none"/>
<circle cx="108.30" cy="180.00" r="1.50" fill="none" stroke="#a890c8" stroke-width="0.6"/>
<line x1="108.30" y1="178.50" x2="108.30" y2="176.80" stroke="#a890c8" stroke-width="0.5"/>
<circle cx="117.60" cy="180.00" r="1.50" fill="none" stroke="#a890c8" stroke-width="0.6"/>
<line x1="117.60" y1="178.50" x2="117.60" y2="176.80" stroke="#a890c8" stroke-width="0.5"/>
<circle cx="112.70" cy="184.40" r="1.50" fill="none" stroke="#a890c8" stroke-width="0.6"/>
<line x1="112.70" y1="182.90" x2="112.70" y2="181.20" stroke="#a890c8" stroke-width="0.5"/>
<text x="0" y="0" font-size="4.9" fill="#6aa2d6" stroke="#6aa2d6" stroke-width="0.0" transform="translate(120.20 179.60) scale(0.8977 1)">Complement (HS)</text>
<text x="0" y="0" font-size="5.0" fill="#4a8ac8" stroke="#4a8ac8" stroke-width="0.0" transform="translate(133.50 192.80) scale(0.7941 1)">CDC</text>
<rect x="131.00" y="210.00" width="4.50" height="3.50" fill="#1a1a1a"/>
<path d="M136.6,211.8 L142.0,206.2 L148.2,212.4" stroke="#c4bc6a" stroke-width="2.4" fill="none"/>
<path d="M138.2,210.4 L140.6,207.6 M143.6,207.8 L146.4,210.8" stroke="#e2dca0" stroke-width="1.0" fill="none"/>
<line x1="142.50" y1="200.20" x2="142.50" y2="205.60" stroke="#1a1a1a" stroke-width="1.0"/>
<path d="M152.6,201.4 L146.2,204.4 L152.6,207.6" stroke="#1a1a1a" stroke-width="1.0" fill="none"/>
<rect x="98.40" y="215.20" width="4.60" height="2.60" fill="#1a1a1a"/>
<rect x="96.20" y="212.80" width="2.60" height="4.00" fill="#4a6ab0"/>
<path d="M98.0,211.5 L100.5,206.8 L103.0,203.6" stroke="#1a1a1a" stroke-width="0.9" fill="none"/>
<rect x="116.60" y="224.80" width="3.00" height="7.80" fill="#1a1a1a"/>
<path d="M118.2,232.4 L121.5,235.4 L127.0,234.6" stroke="#c8c040" stroke-width="1.8" fill="none"/>
<path d="M121.5,235.4 L120.4,239.8" stroke="#c8c040" stroke-width="1.8" fill="none"/>
<path d="M120.5,233.8 L128.8,233.4" stroke="#1a1a1a" stroke-width="1.1" fill="none"/>
<text x="0" y="0" font-size="4.4" fill="#a890b0" stroke="#a890b0" stroke-width="0.0" transform="translate(83.70 230.60) scale(0.8636 1)">RDL</text>
<text x="0" y="0" font-size="4.4" fill="#d45a86" stroke="#d45a86" stroke-width="0.0" transform="translate(139.60 233.60) scale(1.0746 1)">ADCC</text>
<text x="0" y="0" font-size="4.4" fill="#e4864e" stroke="#e4864e" stroke-width="0.0" transform="translate(94.20 252.00) scale(0.9975 1)">ADCP</text>
<line x1="216.90" y1="194.20" x2="216.90" y2="259.50" stroke="#222" stroke-width="1.25"/>
<line x1="214.30" y1="196.30" x2="216.90" y2="196.30" stroke="#222" stroke-width="1.25"/>
<text x="212.30" y="198.71" font-size="6.7" fill="#333" stroke="#333" stroke-width="0.08" text-anchor="end">100</text>
<line x1="214.30" y1="206.78" x2="216.90" y2="206.78" stroke="#222" stroke-width="1.25"/>
<text x="212.30" y="209.19" font-size="6.7" fill="#333" stroke="#333" stroke-width="0.08" text-anchor="end">80</text>
<line x1="214.30" y1="217.26" x2="216.90" y2="217.26" stroke="#222" stroke-width="1.25"/>
<text x="212.30" y="219.67" font-size="6.7" fill="#333" stroke="#333" stroke-width="0.08" text-anchor="end">60</text>
<line x1="214.30" y1="227.74" x2="216.90" y2="227.74" stroke="#222" stroke-width="1.25"/>
<text x="212.30" y="230.15" font-size="6.7" fill="#333" stroke="#333" stroke-width="0.08" text-anchor="end">40</text>
<line x1="214.30" y1="238.22" x2="216.90" y2="238.22" stroke="#222" stroke-width="1.25"/>
<text x="212.30" y="240.63" font-size="6.7" fill="#333" stroke="#333" stroke-width="0.08" text-anchor="end">20</text>
<line x1="214.30" y1="248.70" x2="216.90" y2="248.70" stroke="#222" stroke-width="1.25"/>
<text x="212.30" y="251.11" font-size="6.7" fill="#333" stroke="#333" stroke-width="0.08" text-anchor="end">0</text>
<line x1="214.30" y1="259.18" x2="216.90" y2="259.18" stroke="#222" stroke-width="1.25"/>
<text x="212.30" y="261.59" font-size="6.7" fill="#333" stroke="#333" stroke-width="0.08" text-anchor="end">-20</text>
<line x1="216.90" y1="248.70" x2="290.40" y2="248.70" stroke="#222" stroke-width="1.25"/>
<line x1="232.80" y1="248.70" x2="232.80" y2="251.50" stroke="#222" stroke-width="1.25"/>
<text x="229.80" y="260.61" font-size="6.7" fill="#333" stroke="#333" stroke-width="0.08" text-anchor="middle">0.0001</text>
<line x1="249.30" y1="248.70" x2="249.30" y2="251.50" stroke="#222" stroke-width="1.25"/>
<text x="249.30" y="260.61" font-size="6.7" fill="#333" stroke="#333" stroke-width="0.08" text-anchor="middle">0.01</text>
<line x1="265.80" y1="248.70" x2="265.80" y2="251.50" stroke="#222" stroke-width="1.25"/>
<text x="265.80" y="260.61" font-size="6.7" fill="#333" stroke="#333" stroke-width="0.08" text-anchor="middle">1</text>
<line x1="282.30" y1="248.70" x2="282.30" y2="251.50" stroke="#222" stroke-width="1.25"/>
<text x="282.30" y="260.61" font-size="6.7" fill="#333" stroke="#333" stroke-width="0.08" text-anchor="middle">100</text>
<text x="0" y="0" font-size="8.2" fill="#2a2a2a" stroke="#2a2a2a" stroke-width="0.22" transform="translate(210.80 272.90) scale(0.8582 1)">Antibody concentration (nM)</text>
<text x="0" y="0" font-size="8.6" fill="#2a2a2a" stroke="#2a2a2a" stroke-width="0.22" text-anchor="middle" transform="translate(194.50 227.90) rotate(-90) scale(0.8197 1)">% Specific killing</text>
<text x="0" y="0" font-size="6.8" fill="#333" stroke="#333" stroke-width="0.0" text-anchor="middle" transform="translate(255.00 189.10) scale(0.9706 1)">NCI-H929</text>
<path d="M222.00,244.80 L222.50,244.80 L223.00,244.80 L223.50,244.80 L224.00,244.80 L224.50,244.80 L225.00,244.80 L225.50,244.80 L226.00,244.79 L226.50,244.79 L227.00,244.79 L227.50,244.79 L228.00,244.79 L228.50,244.79 L229.00,244.79 L229.50,244.78 L230.00,244.78 L230.50,244.78 L231.00,244.77 L231.50,244.77 L232.00,244.76 L232.50,244.75 L233.00,244.74 L233.50,244.73 L234.00,244.72 L234.50,244.71 L235.00,244.69 L235.50,244.67 L236.00,244.64 L236.50,244.61 L237.00,244.58 L237.50,244.54 L238.00,244.49 L238.50,244.43 L239.00,244.36 L239.50,244.28 L240.00,244.18 L240.50,244.07 L241.00,243.93 L241.50,243.77 L242.00,243.59 L242.50,243.36 L243.00,243.10 L243.50,242.80 L244.00,242.44 L244.50,242.02 L245.00,241.53 L245.50,240.96 L246.00,240.31 L246.50,239.56 L247.00,238.70 L247.50,237.72 L248.00,236.61 L248.50,235.37 L249.00,233.99 L249.50,232.48 L250.00,230.83 L250.50,229.06 L251.00,227.18 L251.50,225.22 L252.00,223.18 L252.50,221.12 L253.00,219.04 L253.50,216.99 L254.00,214.99 L254.50,213.08 L255.00,211.26 L255.50,209.56 L256.00,208.00 L256.50,206.56 L257.00,205.27 L257.50,204.11 L258.00,203.08 L258.50,202.17 L259.00,201.38 L259.50,200.69 L260.00,200.09 L260.50,199.57 L261.00,199.12 L261.50,198.74 L262.00,198.41 L262.50,198.14 L263.00,197.90 L263.50,197.70 L264.00,197.53 L264.50,197.38 L265.00,197.26 L265.50,197.16 L266.00,197.07 L266.50,197.00 L267.00,196.93 L267.50,196.88 L268.00,196.84 L268.50,196.80 L269.00,196.77 L269.50,196.74 L270.00,196.72 L270.50,196.70 L271.00,196.68 L271.50,196.67 L272.00,196.66 L272.50,196.65 L273.00,196.64 L273.50,196.64 L274.00,196.63 L274.50,196.63 L275.00,196.62 L275.50,196.62 L276.00,196.62 L276.50,196.61 L277.00,196.61 L277.50,196.61 L278.00,196.61 L278.50,196.61 L279.00,196.61 L279.50,196.60 L280.00,196.60 L280.50,196.60 L281.00,196.60 L281.50,196.60 L282.00,196.60 L282.50,196.60 L283.00,196.60 L283.50,196.60 L284.00,196.60 L284.50,196.60 L285.00,196.60 L285.50,196.60 L286.00,196.60" stroke="#d63250" stroke-width="0.8" fill="none"/>
<path d="M240.00,246.14 L240.50,246.13 L241.00,246.12 L241.50,246.10 L242.00,246.09 L242.50,246.07 L243.00,246.05 L243.50,246.02 L244.00,245.99 L244.50,245.96 L245.00,245.92 L245.50,245.87 L246.00,245.82 L246.50,245.76 L247.00,245.69 L247.50,245.61 L248.00,245.52 L248.50,245.41 L249.00,245.29 L249.50,245.15 L250.00,244.98 L250.50,244.80 L251.00,244.59 L251.50,244.35 L252.00,244.08 L252.50,243.78 L253.00,243.43 L253.50,243.05 L254.00,242.63 L254.50,242.17 L255.00,241.66 L255.50,241.11 L256.00,240.51 L256.50,239.88 L257.00,239.21 L257.50,238.51 L258.00,237.79 L258.50,237.05 L259.00,236.30 L259.50,235.55 L260.00,234.81 L260.50,234.09 L261.00,233.39 L261.50,232.72 L262.00,232.09 L262.50,231.49 L263.00,230.94 L263.50,230.43 L264.00,229.97 L264.50,229.55 L265.00,229.17 L265.50,228.82 L266.00,228.52 L266.50,228.25 L267.00,228.01 L267.50,227.80 L268.00,227.62 L268.50,227.45 L269.00,227.31 L269.50,227.19 L270.00,227.08 L270.50,226.99 L271.00,226.91 L271.50,226.84 L272.00,226.78 L272.50,226.73 L273.00,226.68 L273.50,226.64 L274.00,226.61 L274.50,226.58 L275.00,226.55 L275.50,226.53 L276.00,226.51 L276.50,226.50 L277.00,226.48 L277.50,226.47 L278.00,226.46 L278.50,226.45 L279.00,226.45 L279.50,226.44 L280.00,226.43 L280.50,226.43 L281.00,226.43 L281.50,226.42 L282.00,226.42 L282.50,226.42 L283.00,226.41 L283.50,226.41 L284.00,226.41 L284.50,226.41 L285.00,226.41 L285.50,226.41 L286.00,226.41" stroke="#5cbf5c" stroke-width="0.8" fill="none"/>
<line x1="233" y1="240.8" x2="233" y2="246.5" stroke="#8a1b2e" stroke-width="0.6"/>
<path d="M281.3,240.6 L283.7,240.6 M282.5,240.6 L282.5,248.6" stroke="#444" stroke-width="0.6" fill="none"/>
<line x1="266.1" y1="225.5" x2="266.1" y2="230" stroke="#3d8a3d" stroke-width="0.6"/>
<rect x="239.60" y="244.90" width="3.20" height="3.20" fill="#3d8a3d" stroke="#2d6d2d" stroke-width="0.3"/>
<rect x="247.60" y="242.50" width="3.20" height="3.20" fill="#3d8a3d" stroke="#2d6d2d" stroke-width="0.3"/>
<rect x="256.00" y="236.70" width="3.20" height="3.20" fill="#3d8a3d" stroke="#2d6d2d" stroke-width="0.3"/>
<rect x="264.50" y="226.40" width="3.20" height="3.20" fill="#3d8a3d" stroke="#2d6d2d" stroke-width="0.3"/>
<rect x="272.80" y="226.00" width="3.20" height="3.20" fill="#3d8a3d" stroke="#2d6d2d" stroke-width="0.3"/>
<rect x="280.90" y="224.40" width="3.20" height="3.20" fill="#3d8a3d" stroke="#2d6d2d" stroke-width="0.3"/>
<circle cx="224.60" cy="244.40" r="1.75" fill="#8a1b2e"/>
<circle cx="233.00" cy="244.10" r="1.75" fill="#8a1b2e"/>
<circle cx="241.20" cy="244.10" r="1.75" fill="#8a1b2e"/>
<circle cx="249.20" cy="234.50" r="1.75" fill="#8a1b2e"/>
<circle cx="257.60" cy="198.20" r="1.75" fill="#8a1b2e"/>
<circle cx="266.10" cy="197.20" r="1.75" fill="#8a1b2e"/>
<circle cx="274.40" cy="196.90" r="1.75" fill="#8a1b2e"/>
<circle cx="282.50" cy="196.90" r="1.75" fill="#8a1b2e"/>
<rect x="281.00" y="243.10" width="3.00" height="3.00" fill="#d8d8d8" stroke="#444" stroke-width="0.7"/>
<line x1="92.30" y1="296.80" x2="92.30" y2="365.10" stroke="#222" stroke-width="1.25"/>
<line x1="89.70" y1="301.90" x2="92.30" y2="301.90" stroke="#222" stroke-width="1.25"/>
<text x="87.70" y="304.31" font-size="6.7" fill="#333" stroke="#333" stroke-width="0.08" text-anchor="end">100</text>
<line x1="89.70" y1="312.38" x2="92.30" y2="312.38" stroke="#222" stroke-width="1.25"/>
<text x="87.70" y="314.79" font-size="6.7" fill="#333" stroke="#333" stroke-width="0.08" text-anchor="end">80</text>
<line x1="89.70" y1="322.86" x2="92.30" y2="322.86" stroke="#222" stroke-width="1.25"/>
<text x="87.70" y="325.27" font-size="6.7" fill="#333" stroke="#333" stroke-width="0.08" text-anchor="end">60</text>
<line x1="89.70" y1="333.34" x2="92.30" y2="333.34" stroke="#222" stroke-width="1.25"/>
<text x="87.70" y="335.75" font-size="6.7" fill="#333" stroke="#333" stroke-width="0.08" text-anchor="end">40</text>
<line x1="89.70" y1="343.82" x2="92.30" y2="343.82" stroke="#222" stroke-width="1.25"/>
<text x="87.70" y="346.23" font-size="6.7" fill="#333" stroke="#333" stroke-width="0.08" text-anchor="end">20</text>
<line x1="89.70" y1="354.30" x2="92.30" y2="354.30" stroke="#222" stroke-width="1.25"/>
<text x="87.70" y="356.71" font-size="6.7" fill="#333" stroke="#333" stroke-width="0.08" text-anchor="end">0</text>
<line x1="89.70" y1="364.78" x2="92.30" y2="364.78" stroke="#222" stroke-width="1.25"/>
<text x="87.70" y="367.19" font-size="6.7" fill="#333" stroke="#333" stroke-width="0.08" text-anchor="end">-20</text>
<line x1="92.30" y1="354.30" x2="174.20" y2="354.30" stroke="#222" stroke-width="1.25"/>
<line x1="108.20" y1="354.30" x2="108.20" y2="357.10" stroke="#222" stroke-width="1.25"/>
<text x="105.20" y="370.81" font-size="6.7" fill="#333" stroke="#333" stroke-width="0.08" text-anchor="middle">0.0001</text>
<line x1="124.70" y1="354.30" x2="124.70" y2="357.10" stroke="#222" stroke-width="1.25"/>
<text x="124.70" y="370.81" font-size="6.7" fill="#333" stroke="#333" stroke-width="0.08" text-anchor="middle">0.01</text>
<line x1="141.20" y1="354.30" x2="141.20" y2="357.10" stroke="#222" stroke-width="1.25"/>
<text x="141.20" y="370.81" font-size="6.7" fill="#333" stroke="#333" stroke-width="0.08" text-anchor="middle">1</text>
<line x1="157.70" y1="354.30" x2="157.70" y2="357.10" stroke="#222" stroke-width="1.25"/>
<text x="157.70" y="370.81" font-size="6.7" fill="#333" stroke="#333" stroke-width="0.08" text-anchor="middle">100</text>
<text x="0" y="0" font-size="8.2" fill="#2a2a2a" stroke="#2a2a2a" stroke-width="0.22" transform="translate(89.10 383.30) scale(0.8582 1)">Antibody concentration (nM)</text>
<text x="0" y="0" font-size="8.6" fill="#2a2a2a" stroke="#2a2a2a" stroke-width="0.22" text-anchor="middle" transform="translate(69.90 333.50) rotate(-90) scale(0.8197 1)">% Specific killing</text>
<text x="0" y="0" font-size="6.8" fill="#333" stroke="#333" stroke-width="0.0" text-anchor="middle" transform="translate(133.40 295.00) scale(0.9706 1)">KMS-12-BM</text>
<path d="M92.80,349.40 L93.30,349.40 L93.80,349.40 L94.30,349.40 L94.80,349.40 L95.30,349.40 L95.80,349.40 L96.30,349.40 L96.80,349.40 L97.30,349.40 L97.80,349.40 L98.30,349.40 L98.80,349.40 L99.30,349.39 L99.80,349.39 L100.30,349.39 L100.80,349.39 L101.30,349.39 L101.80,349.39 L102.30,349.39 L102.80,349.38 L103.30,349.38 L103.80,349.38 L104.30,349.37 L104.80,349.37 L105.30,349.36 L105.80,349.35 L106.30,349.35 L106.80,349.34 L107.30,349.32 L107.80,349.31 L108.30,349.29 L108.80,349.27 L109.30,349.25 L109.80,349.22 L110.30,349.19 L110.80,349.16 L111.30,349.11 L111.80,349.06 L112.30,349.00 L112.80,348.93 L113.30,348.84 L113.80,348.74 L114.30,348.62 L114.80,348.49 L115.30,348.32 L115.80,348.13 L116.30,347.91 L116.80,347.65 L117.30,347.35 L117.80,346.99 L118.30,346.58 L118.80,346.11 L119.30,345.56 L119.80,344.93 L120.30,344.21 L120.80,343.38 L121.30,342.45 L121.80,341.40 L122.30,340.23 L122.80,338.94 L123.30,337.51 L123.80,335.96 L124.30,334.30 L124.80,332.53 L125.30,330.68 L125.80,328.75 L126.30,326.79 L126.80,324.81 L127.30,322.84 L127.80,320.90 L128.30,319.03 L128.80,317.24 L129.30,315.56 L129.80,313.99 L130.30,312.54 L130.80,311.22 L131.30,310.02 L131.80,308.95 L132.30,307.99 L132.80,307.15 L133.30,306.41 L133.80,305.76 L134.30,305.19 L134.80,304.71 L135.30,304.28 L135.80,303.92 L136.30,303.61 L136.80,303.34 L137.30,303.11 L137.80,302.91 L138.30,302.74 L138.80,302.60 L139.30,302.48 L139.80,302.38 L140.30,302.29 L140.80,302.22 L141.30,302.15 L141.80,302.10 L142.30,302.05 L142.80,302.01 L143.30,301.98 L143.80,301.95 L144.30,301.93 L144.80,301.91 L145.30,301.89 L145.80,301.88 L146.30,301.87 L146.80,301.86 L147.30,301.85 L147.80,301.84 L148.30,301.83 L148.80,301.83 L149.30,301.82 L149.80,301.82 L150.30,301.82 L150.80,301.81 L151.30,301.81 L151.80,301.81 L152.30,301.81 L152.80,301.81 L153.30,301.81 L153.80,301.81 L154.30,301.80 L154.80,301.80 L155.30,301.80 L155.80,301.80 L156.30,301.80 L156.80,301.80 L157.30,301.80 L157.80,301.80 L158.30,301.80 L158.80,301.80 L159.30,301.80 L159.80,301.80 L160.30,301.80 L160.80,301.80 L161.30,301.80 L161.80,301.80" stroke="#d63250" stroke-width="0.8" fill="none"/>
<path d="M109.00,355.74 L109.50,355.69 L110.00,355.64 L110.50,355.58 L111.00,355.52 L111.50,355.45 L112.00,355.37 L112.50,355.28 L113.00,355.19 L113.50,355.09 L114.00,354.97 L114.50,354.85 L115.00,354.71 L115.50,354.56 L116.00,354.39 L116.50,354.21 L117.00,354.01 L117.50,353.79 L118.00,353.55 L118.50,353.29 L119.00,353.01 L119.50,352.70 L120.00,352.36 L120.50,351.99 L121.00,351.59 L121.50,351.16 L122.00,350.69 L122.50,350.19 L123.00,349.65 L123.50,349.06 L124.00,348.44 L124.50,347.77 L125.00,347.06 L125.50,346.31 L126.00,345.51 L126.50,344.66 L127.00,343.77 L127.50,342.85 L128.00,341.88 L128.50,340.87 L129.00,339.83 L129.50,338.76 L130.00,337.66 L130.50,336.54 L131.00,335.40 L131.50,334.25 L132.00,333.10 L132.50,331.95 L133.00,330.80 L133.50,329.66 L134.00,328.54 L134.50,327.44 L135.00,326.37 L135.50,325.33 L136.00,324.32 L136.50,323.35 L137.00,322.43 L137.50,321.54 L138.00,320.69 L138.50,319.89 L139.00,319.14 L139.50,318.43 L140.00,317.76 L140.50,317.14 L141.00,316.55 L141.50,316.01 L142.00,315.51 L142.50,315.04 L143.00,314.61 L143.50,314.21 L144.00,313.84 L144.50,313.50 L145.00,313.19 L145.50,312.91 L146.00,312.65 L146.50,312.41 L147.00,312.19 L147.50,311.99 L148.00,311.81 L148.50,311.64 L149.00,311.49 L149.50,311.35 L150.00,311.23 L150.50,311.11 L151.00,311.01 L151.50,310.92 L152.00,310.83 L152.50,310.75 L153.00,310.68 L153.50,310.62 L154.00,310.56 L154.50,310.51 L155.00,310.46 L155.50,310.42 L156.00,310.38 L156.50,310.34 L157.00,310.31 L157.50,310.28 L158.00,310.25 L158.50,310.23 L159.00,310.21 L159.50,310.19 L160.00,310.17 L160.50,310.15 L161.00,310.14 L161.50,310.13 L162.00,310.11" stroke="#5cbf5c" stroke-width="0.8" fill="none"/>
<rect x="106.90" y="349.10" width="3.20" height="3.20" fill="#3d8a3d" stroke="#2d6d2d" stroke-width="0.3"/>
<rect x="114.90" y="354.30" width="3.20" height="3.20" fill="#3d8a3d" stroke="#2d6d2d" stroke-width="0.3"/>
<rect x="122.90" y="336.30" width="3.20" height="3.20" fill="#3d8a3d" stroke="#2d6d2d" stroke-width="0.3"/>
<rect x="131.40" y="333.70" width="3.20" height="3.20" fill="#3d8a3d" stroke="#2d6d2d" stroke-width="0.3"/>
<rect x="139.80" y="316.50" width="3.20" height="3.20" fill="#3d8a3d" stroke="#2d6d2d" stroke-width="0.3"/>
<rect x="148.20" y="308.80" width="3.20" height="3.20" fill="#3d8a3d" stroke="#2d6d2d" stroke-width="0.3"/>
<rect x="156.70" y="313.80" width="3.20" height="3.20" fill="#3d8a3d" stroke="#2d6d2d" stroke-width="0.3"/>
<circle cx="100.00" cy="354.30" r="1.75" fill="#8a1b2e"/>
<circle cx="108.50" cy="352.70" r="1.75" fill="#8a1b2e"/>
<circle cx="116.50" cy="337.40" r="1.75" fill="#8a1b2e"/>
<circle cx="124.50" cy="333.40" r="1.75" fill="#8a1b2e"/>
<circle cx="133.00" cy="303.70" r="1.75" fill="#8a1b2e"/>
<circle cx="141.40" cy="302.50" r="1.75" fill="#8a1b2e"/>
<circle cx="149.80" cy="302.00" r="1.75" fill="#8a1b2e"/>
<circle cx="158.30" cy="302.40" r="1.75" fill="#8a1b2e"/>
<rect x="155.90" y="346.90" width="3.00" height="3.00" fill="#d8d8d8" stroke="#444" stroke-width="0.7"/>
<rect x="155.90" y="344.90" width="3.00" height="3.00" fill="#d8d8d8" stroke="#444" stroke-width="0.7"/>
<line x1="216.90" y1="299.50" x2="216.90" y2="364.80" stroke="#222" stroke-width="1.25"/>
<line x1="214.30" y1="301.60" x2="216.90" y2="301.60" stroke="#222" stroke-width="1.25"/>
<text x="212.30" y="304.01" font-size="6.7" fill="#333" stroke="#333" stroke-width="0.08" text-anchor="end">100</text>
<line x1="214.30" y1="312.08" x2="216.90" y2="312.08" stroke="#222" stroke-width="1.25"/>
<text x="212.30" y="314.49" font-size="6.7" fill="#333" stroke="#333" stroke-width="0.08" text-anchor="end">80</text>
<line x1="214.30" y1="322.56" x2="216.90" y2="322.56" stroke="#222" stroke-width="1.25"/>
<text x="212.30" y="324.97" font-size="6.7" fill="#333" stroke="#333" stroke-width="0.08" text-anchor="end">60</text>
<line x1="214.30" y1="333.04" x2="216.90" y2="333.04" stroke="#222" stroke-width="1.25"/>
<text x="212.30" y="335.45" font-size="6.7" fill="#333" stroke="#333" stroke-width="0.08" text-anchor="end">40</text>
<line x1="214.30" y1="343.52" x2="216.90" y2="343.52" stroke="#222" stroke-width="1.25"/>
<text x="212.30" y="345.93" font-size="6.7" fill="#333" stroke="#333" stroke-width="0.08" text-anchor="end">20</text>
<line x1="214.30" y1="354.00" x2="216.90" y2="354.00" stroke="#222" stroke-width="1.25"/>
<text x="212.30" y="356.41" font-size="6.7" fill="#333" stroke="#333" stroke-width="0.08" text-anchor="end">0</text>
<line x1="214.30" y1="364.48" x2="216.90" y2="364.48" stroke="#222" stroke-width="1.25"/>
<text x="212.30" y="366.89" font-size="6.7" fill="#333" stroke="#333" stroke-width="0.08" text-anchor="end">-20</text>
<line x1="216.90" y1="354.00" x2="293.40" y2="354.00" stroke="#222" stroke-width="1.25"/>
<line x1="232.80" y1="354.00" x2="232.80" y2="356.80" stroke="#222" stroke-width="1.25"/>
<text x="229.80" y="370.61" font-size="6.7" fill="#333" stroke="#333" stroke-width="0.08" text-anchor="middle">0.0001</text>
<line x1="249.30" y1="354.00" x2="249.30" y2="356.80" stroke="#222" stroke-width="1.25"/>
<text x="249.30" y="370.61" font-size="6.7" fill="#333" stroke="#333" stroke-width="0.08" text-anchor="middle">0.01</text>
<line x1="265.80" y1="354.00" x2="265.80" y2="356.80" stroke="#222" stroke-width="1.25"/>
<text x="265.80" y="370.61" font-size="6.7" fill="#333" stroke="#333" stroke-width="0.08" text-anchor="middle">1</text>
<line x1="282.30" y1="354.00" x2="282.30" y2="356.80" stroke="#222" stroke-width="1.25"/>
<text x="282.30" y="370.61" font-size="6.7" fill="#333" stroke="#333" stroke-width="0.08" text-anchor="middle">100</text>
<text x="0" y="0" font-size="8.2" fill="#2a2a2a" stroke="#2a2a2a" stroke-width="0.22" transform="translate(210.80 383.00) scale(0.8582 1)">Antibody concentration (nM)</text>
<text x="0" y="0" font-size="8.6" fill="#2a2a2a" stroke="#2a2a2a" stroke-width="0.22" text-anchor="middle" transform="translate(194.50 333.20) rotate(-90) scale(0.8197 1)">% Specific killing</text>
<text x="0" y="0" font-size="6.8" fill="#333" stroke="#333" stroke-width="0.0" text-anchor="middle" transform="translate(254.40 295.40) scale(0.9704 1)">RPMI8226</text>
<path d="M235.50,358.18 L236.00,357.97 L236.50,357.73 L237.00,357.46 L237.50,357.15 L238.00,356.80 L238.50,356.40 L239.00,355.95 L239.50,355.44 L240.00,354.86 L240.50,354.23 L241.00,353.52 L241.50,352.74 L242.00,351.89 L242.50,350.96 L243.00,349.97 L243.50,348.90 L244.00,347.78 L244.50,346.61 L245.00,345.40 L245.50,344.16 L246.00,342.90 L246.50,341.64 L247.00,340.40 L247.50,339.19 L248.00,338.02 L248.50,336.90 L249.00,335.83 L249.50,334.84 L250.00,333.91 L250.50,333.06 L251.00,332.28 L251.50,331.57 L252.00,330.94 L252.50,330.36 L253.00,329.85 L253.50,329.40 L254.00,329.00 L254.50,328.65 L255.00,328.34 L255.50,328.07 L256.00,327.83 L256.50,327.62 L257.00,327.44 L257.50,327.29 L258.00,327.15 L258.50,327.04 L259.00,326.93 L259.50,326.85 L260.00,326.77 L260.50,326.71 L261.00,326.65 L261.50,326.60 L262.00,326.56 L262.50,326.52 L263.00,326.49 L263.50,326.46 L264.00,326.44 L264.50,326.42 L265.00,326.40 L265.50,326.39 L266.00,326.38 L266.50,326.37 L267.00,326.36 L267.50,326.35 L268.00,326.34 L268.50,326.34 L269.00,326.33 L269.50,326.33 L270.00,326.32 L270.50,326.32 L271.00,326.32 L271.50,326.31 L272.00,326.31 L272.50,326.31 L273.00,326.31 L273.50,326.31 L274.00,326.31 L274.50,326.31 L275.00,326.31 L275.50,326.30 L276.00,326.30 L276.50,326.30 L277.00,326.30 L277.50,326.30 L278.00,326.30 L278.50,326.30 L279.00,326.30 L279.50,326.30 L280.00,326.30 L280.50,326.30 L281.00,326.30 L281.50,326.30 L282.00,326.30 L282.50,326.30 L283.00,326.30 L283.50,326.30 L284.00,326.30" stroke="#d63250" stroke-width="0.8" fill="none"/>
<path d="M224.00,359.40 L224.50,359.40 L225.00,359.40 L225.50,359.40 L226.00,359.40 L226.50,359.40 L227.00,359.40 L227.50,359.40 L228.00,359.40 L228.50,359.40 L229.00,359.40 L229.50,359.40 L230.00,359.40 L230.50,359.40 L231.00,359.40 L231.50,359.40 L232.00,359.40 L232.50,359.40 L233.00,359.40 L233.50,359.40 L234.00,359.40 L234.50,359.40 L235.00,359.40 L235.50,359.40 L236.00,359.40 L236.50,359.40 L237.00,359.40 L237.50,359.40 L238.00,359.40 L238.50,359.40 L239.00,359.39 L239.50,359.39 L240.00,359.39 L240.50,359.39 L241.00,359.39 L241.50,359.38 L242.00,359.38 L242.50,359.37 L243.00,359.37 L243.50,359.36 L244.00,359.35 L244.50,359.34 L245.00,359.32 L245.50,359.30 L246.00,359.28 L246.50,359.25 L247.00,359.21 L247.50,359.16 L248.00,359.10 L248.50,359.02 L249.00,358.93 L249.50,358.81 L250.00,358.66 L250.50,358.48 L251.00,358.26 L251.50,357.99 L252.00,357.65 L252.50,357.25 L253.00,356.76 L253.50,356.18 L254.00,355.49 L254.50,354.69 L255.00,353.77 L255.50,352.73 L256.00,351.58 L256.50,350.34 L257.00,349.03 L257.50,347.67 L258.00,346.31 L258.50,344.98 L259.00,343.71 L259.50,342.52 L260.00,341.43 L260.50,340.47 L261.00,339.62 L261.50,338.88 L262.00,338.26 L262.50,337.74 L263.00,337.30 L263.50,336.94 L264.00,336.64 L264.50,336.40 L265.00,336.20 L265.50,336.04 L266.00,335.92 L266.50,335.81 L267.00,335.73 L267.50,335.66 L268.00,335.61 L268.50,335.57 L269.00,335.53 L269.50,335.51 L270.00,335.49 L270.50,335.47 L271.00,335.45 L271.50,335.44 L272.00,335.43 L272.50,335.43 L273.00,335.42 L273.50,335.42 L274.00,335.41 L274.50,335.41 L275.00,335.41 L275.50,335.41 L276.00,335.41 L276.50,335.40 L277.00,335.40 L277.50,335.40 L278.00,335.40 L278.50,335.40 L279.00,335.40 L279.50,335.40 L280.00,335.40 L280.50,335.40 L281.00,335.40 L281.50,335.40 L282.00,335.40 L282.50,335.40 L283.00,335.40 L283.50,335.40 L284.00,335.40 L284.50,335.40 L285.00,335.40 L285.50,335.40 L286.00,335.40 L286.50,335.40 L287.00,335.40 L287.50,335.40 L288.00,335.40 L288.50,335.40 L289.00,335.40 L289.50,335.40 L290.00,335.40 L290.50,335.40 L291.00,335.40" stroke="#5cbf5c" stroke-width="0.8" fill="none"/>
<line x1="237.3" y1="344" x2="237.3" y2="358" stroke="#d88" stroke-width="0.6"/>
<line x1="222.4" y1="356" x2="222.4" y2="364" stroke="#d88" stroke-width="0.6"/>
<rect x="222.90" y="356.90" width="3.20" height="3.20" fill="#3d8a3d" stroke="#2d6d2d" stroke-width="0.3"/>
<rect x="231.60" y="357.40" width="3.20" height="3.20" fill="#3d8a3d" stroke="#2d6d2d" stroke-width="0.3"/>
<rect x="239.60" y="358.40" width="3.20" height="3.20" fill="#3d8a3d" stroke="#2d6d2d" stroke-width="0.3"/>
<rect x="247.70" y="356.90" width="3.20" height="3.20" fill="#3d8a3d" stroke="#2d6d2d" stroke-width="0.3"/>
<rect x="255.70" y="344.60" width="3.20" height="3.20" fill="#3d8a3d" stroke="#2d6d2d" stroke-width="0.3"/>
<rect x="263.90" y="334.20" width="3.20" height="3.20" fill="#3d8a3d" stroke="#2d6d2d" stroke-width="0.3"/>
<rect x="272.20" y="334.60" width="3.20" height="3.20" fill="#3d8a3d" stroke="#2d6d2d" stroke-width="0.3"/>
<rect x="280.40" y="333.80" width="3.20" height="3.20" fill="#3d8a3d" stroke="#2d6d2d" stroke-width="0.3"/>
<rect x="288.80" y="333.80" width="3.20" height="3.20" fill="#3d8a3d" stroke="#2d6d2d" stroke-width="0.3"/>
<circle cx="222.40" cy="360.50" r="1.75" fill="#8a1b2e"/>
<circle cx="229.60" cy="358.50" r="1.75" fill="#8a1b2e"/>
<circle cx="237.30" cy="351.20" r="1.75" fill="#8a1b2e"/>
<circle cx="245.00" cy="343.00" r="1.75" fill="#8a1b2e"/>
<circle cx="252.40" cy="334.30" r="1.75" fill="#8a1b2e"/>
<circle cx="260.00" cy="328.20" r="1.75" fill="#8a1b2e"/>
<circle cx="267.30" cy="325.80" r="1.75" fill="#8a1b2e"/>
<circle cx="274.70" cy="326.50" r="1.75" fill="#8a1b2e"/>
<circle cx="282.00" cy="326.20" r="1.75" fill="#8a1b2e"/>
<circle cx="282.00" cy="355.60" r="1.20" fill="#555"/>
<rect x="288.90" y="357.50" width="3.00" height="3.00" fill="#d8d8d8" stroke="#444" stroke-width="0.7"/>
<text x="313.9" y="170.1" font-size="13" font-weight="bold" fill="#111" stroke="none">G</text>
<defs><linearGradient id="ag2" x1="0" y1="0" x2="0" y2="1"><stop offset="0" stop-color="#d4d4d4"/><stop offset="0.5" stop-color="#e4e4e4"/><stop offset="1" stop-color="#fafafa"/></linearGradient></defs>
<path d="M333.20,179.60 L339.70,186.10 L337.10,186.10 L337.10,249.00 L329.30,249.00 L329.30,186.10 L326.70,186.10 Z" fill="url(#ag2)"/>
<text x="0" y="0" font-size="7.0" fill="#444" stroke="#444" stroke-width="0.0" text-anchor="middle" transform="translate(334.60 214.00) rotate(-90) scale(0.9424 1)">CD38 expression</text>
<text x="0" y="0" fill="#333" stroke="#333" stroke-width="0.0" transform="translate(371.50 181.10) scale(1.0095 1)"><tspan font-size="6.6" dy="0">Tumor cell killing - EC</tspan><tspan font-size="4.2" dy="1.4">50</tspan><tspan font-size="6.6" dy="-1.4"> (pM)</tspan></text>
<line x1="380.20" y1="189.30" x2="380.20" y2="254.00" stroke="#222" stroke-width="1.25"/>
<line x1="380.20" y1="253.50" x2="447.00" y2="253.50" stroke="#222" stroke-width="1.25"/>
<line x1="377.00" y1="198.30" x2="380.20" y2="198.30" stroke="#222" stroke-width="1.25"/>
<text x="0" y="0" font-size="6.9" fill="#333" stroke="#333" stroke-width="0.0" text-anchor="end" transform="translate(374.30 200.80) scale(0.9325 1)">RPMI8226</text>
<line x1="377.00" y1="220.60" x2="380.20" y2="220.60" stroke="#222" stroke-width="1.25"/>
<text x="0" y="0" font-size="6.9" fill="#333" stroke="#333" stroke-width="0.0" text-anchor="end" transform="translate(374.30 223.10) scale(0.9553 1)">NCI-H929</text>
<line x1="377.00" y1="243.50" x2="380.20" y2="243.50" stroke="#222" stroke-width="1.25"/>
<text x="0" y="0" font-size="6.9" fill="#333" stroke="#333" stroke-width="0.0" text-anchor="end" transform="translate(374.30 246.00) scale(0.9476 1)">KMS-12-BM</text>
<line x1="380.20" y1="253.50" x2="380.20" y2="256.30" stroke="#222" stroke-width="1.25"/>
<text x="383.20" y="264.50" font-size="7.0" fill="#333" stroke="#333" stroke-width="0.08" text-anchor="end" transform="rotate(-45 383.20 264.50)">0.001</text>
<line x1="391.13" y1="253.50" x2="391.13" y2="256.30" stroke="#222" stroke-width="1.25"/>
<text x="394.13" y="264.50" font-size="7.0" fill="#333" stroke="#333" stroke-width="0.08" text-anchor="end" transform="rotate(-45 394.13 264.50)">0.01</text>
<line x1="402.06" y1="253.50" x2="402.06" y2="256.30" stroke="#222" stroke-width="1.25"/>
<text x="405.06" y="264.50" font-size="7.0" fill="#333" stroke="#333" stroke-width="0.08" text-anchor="end" transform="rotate(-45 405.06 264.50)">0.1</text>
<line x1="412.99" y1="253.50" x2="412.99" y2="256.30" stroke="#222" stroke-width="1.25"/>
<text x="415.99" y="264.50" font-size="7.0" fill="#333" stroke="#333" stroke-width="0.08" text-anchor="end" transform="rotate(-45 415.99 264.50)">1</text>
<line x1="423.92" y1="253.50" x2="423.92" y2="256.30" stroke="#222" stroke-width="1.25"/>
<text x="426.92" y="264.50" font-size="7.0" fill="#333" stroke="#333" stroke-width="0.08" text-anchor="end" transform="rotate(-45 426.92 264.50)">10</text>
<line x1="434.85" y1="253.50" x2="434.85" y2="256.30" stroke="#222" stroke-width="1.25"/>
<text x="437.85" y="264.50" font-size="7.0" fill="#333" stroke="#333" stroke-width="0.08" text-anchor="end" transform="rotate(-45 437.85 264.50)">100</text>
<line x1="445.78" y1="253.50" x2="445.78" y2="256.30" stroke="#222" stroke-width="1.25"/>
<text x="448.78" y="264.50" font-size="7.0" fill="#333" stroke="#333" stroke-width="0.08" text-anchor="end" transform="rotate(-45 448.78 264.50)">1000</text>
<text x="0" y="0" fill="#2a2a2a" stroke="#2a2a2a" stroke-width="0.22" transform="translate(368.10 287.40) scale(0.8515 1)"><tspan font-size="8.5" dy="0">EC</tspan><tspan font-size="5.4" dy="1.7">50</tspan><tspan font-size="8.5" dy="-1.7"> of tumor cell killing (pM)</tspan></text>
<line x1="409.00" y1="194.80" x2="424.30" y2="194.80" stroke="#8a1b2e" stroke-width="0.7"/>
<circle cx="409.50" cy="194.80" r="1.10" fill="#8a1b2e"/>
<circle cx="411.50" cy="194.60" r="1.10" fill="#8a1b2e"/>
<circle cx="414.80" cy="194.20" r="1.10" fill="#8a1b2e"/>
<circle cx="416.00" cy="195.60" r="1.10" fill="#8a1b2e"/>
<circle cx="417.20" cy="193.60" r="1.10" fill="#8a1b2e"/>
<circle cx="418.60" cy="195.20" r="1.10" fill="#8a1b2e"/>
<circle cx="419.80" cy="194.00" r="1.10" fill="#8a1b2e"/>
<circle cx="421.00" cy="195.80" r="1.10" fill="#8a1b2e"/>
<circle cx="422.20" cy="193.80" r="1.10" fill="#8a1b2e"/>
<circle cx="423.60" cy="195.00" r="1.10" fill="#8a1b2e"/>
<circle cx="420.60" cy="196.60" r="1.10" fill="#8a1b2e"/>
<circle cx="416.50" cy="192.80" r="1.10" fill="#8a1b2e"/>
<line x1="417.00" y1="192.00" x2="417.00" y2="197.60" stroke="#333" stroke-width="0.7"/>
<circle cx="420.60" cy="203.20" r="1.15" fill="#3d8a3d"/>
<circle cx="427.80" cy="203.60" r="1.15" fill="#3d8a3d"/>
<circle cx="429.60" cy="202.40" r="1.15" fill="#3d8a3d"/>
<circle cx="431.00" cy="204.20" r="1.15" fill="#3d8a3d"/>
<circle cx="432.40" cy="202.80" r="1.15" fill="#3d8a3d"/>
<circle cx="433.60" cy="204.60" r="1.15" fill="#3d8a3d"/>
<circle cx="434.80" cy="203.00" r="1.15" fill="#3d8a3d"/>
<circle cx="435.80" cy="204.80" r="1.15" fill="#3d8a3d"/>
<circle cx="430.20" cy="205.20" r="1.15" fill="#3d8a3d"/>
<circle cx="433.00" cy="201.60" r="1.15" fill="#3d8a3d"/>
<circle cx="428.60" cy="205.00" r="1.15" fill="#3d8a3d"/>
<line x1="410.70" y1="217.10" x2="431.50" y2="217.10" stroke="#8a1b2e" stroke-width="0.7"/>
<circle cx="411.00" cy="217.10" r="1.10" fill="#8a1b2e"/>
<circle cx="413.20" cy="216.60" r="1.10" fill="#8a1b2e"/>
<circle cx="415.20" cy="217.60" r="1.10" fill="#8a1b2e"/>
<circle cx="416.60" cy="216.40" r="1.10" fill="#8a1b2e"/>
<circle cx="419.80" cy="217.60" r="1.10" fill="#8a1b2e"/>
<circle cx="421.20" cy="216.60" r="1.10" fill="#8a1b2e"/>
<circle cx="422.60" cy="217.80" r="1.10" fill="#8a1b2e"/>
<circle cx="425.40" cy="216.40" r="1.10" fill="#8a1b2e"/>
<circle cx="426.60" cy="217.80" r="1.10" fill="#8a1b2e"/>
<circle cx="427.80" cy="216.60" r="1.10" fill="#8a1b2e"/>
<circle cx="429.00" cy="217.80" r="1.10" fill="#8a1b2e"/>
<circle cx="431.20" cy="217.00" r="1.10" fill="#8a1b2e"/>
<line x1="421.80" y1="214.60" x2="421.80" y2="219.80" stroke="#333" stroke-width="0.7"/>
<circle cx="422.40" cy="225.90" r="1.15" fill="#3d8a3d"/>
<circle cx="424.20" cy="224.80" r="1.15" fill="#3d8a3d"/>
<circle cx="425.60" cy="226.60" r="1.15" fill="#3d8a3d"/>
<circle cx="427.40" cy="225.00" r="1.15" fill="#3d8a3d"/>
<circle cx="429.00" cy="226.40" r="1.15" fill="#3d8a3d"/>
<circle cx="430.40" cy="224.60" r="1.15" fill="#3d8a3d"/>
<circle cx="431.80" cy="226.20" r="1.15" fill="#3d8a3d"/>
<circle cx="433.00" cy="224.80" r="1.15" fill="#3d8a3d"/>
<circle cx="434.40" cy="226.60" r="1.15" fill="#3d8a3d"/>
<circle cx="435.80" cy="225.20" r="1.15" fill="#3d8a3d"/>
<circle cx="437.40" cy="226.00" r="1.15" fill="#3d8a3d"/>
<circle cx="438.60" cy="225.00" r="1.15" fill="#3d8a3d"/>
<line x1="430.40" y1="223.00" x2="430.40" y2="228.80" stroke="#333" stroke-width="0.7"/>
<circle cx="394.60" cy="239.60" r="1.10" fill="#8a1b2e"/>
<circle cx="405.50" cy="238.80" r="1.10" fill="#8a1b2e"/>
<circle cx="405.90" cy="240.20" r="1.10" fill="#8a1b2e"/>
<circle cx="411.50" cy="239.60" r="1.10" fill="#8a1b2e"/>
<circle cx="419.80" cy="237.60" r="1.10" fill="#8a1b2e"/>
<circle cx="420.60" cy="239.60" r="1.10" fill="#8a1b2e"/>
<circle cx="419.80" cy="241.60" r="1.10" fill="#8a1b2e"/>
<circle cx="423.60" cy="237.80" r="1.10" fill="#8a1b2e"/>
<circle cx="422.80" cy="239.80" r="1.10" fill="#8a1b2e"/>
<circle cx="423.80" cy="241.80" r="1.10" fill="#8a1b2e"/>
<circle cx="421.80" cy="238.80" r="1.10" fill="#8a1b2e"/>
<line x1="411.50" y1="247.60" x2="438.00" y2="247.60" stroke="#3d8a3d" stroke-width="0.8"/>
<circle cx="412.00" cy="247.60" r="1.10" fill="#3d8a3d"/>
<circle cx="416.30" cy="247.60" r="1.10" fill="#3d8a3d"/>
<circle cx="427.60" cy="247.60" r="1.10" fill="#3d8a3d"/>
<circle cx="429.60" cy="247.40" r="1.10" fill="#3d8a3d"/>
<circle cx="431.40" cy="247.80" r="1.10" fill="#3d8a3d"/>
<circle cx="433.20" cy="247.40" r="1.10" fill="#3d8a3d"/>
<line x1="435.00" y1="245.40" x2="435.00" y2="249.80" stroke="#3d8a3d" stroke-width="0.8"/>
<line x1="437.40" y1="245.40" x2="437.40" y2="249.80" stroke="#3d8a3d" stroke-width="0.8"/>
<line x1="424.00" y1="245.60" x2="424.00" y2="249.60" stroke="#333" stroke-width="0.6"/>
<path d="M441.00,193.80 L443.60,193.80 L443.60,201.90 L441.00,201.90" stroke="#222" stroke-width="1.0" fill="none"/>
<circle cx="448.10" cy="198.05" r="0.75" fill="#333"/>
<path d="M442.40,216.30 L445.00,216.30 L445.00,225.10 L442.40,225.10" stroke="#222" stroke-width="1.0" fill="none"/>
<circle cx="449.50" cy="220.90" r="0.75" fill="#333"/>
<path d="M442.40,239.60 L445.00,239.60 L445.00,246.80 L442.40,246.80" stroke="#222" stroke-width="1.0" fill="none"/>
<circle cx="449.50" cy="243.40" r="0.75" fill="#333"/>
<circle cx="452.50" cy="243.40" r="0.75" fill="#333"/>
<text x="314.5" y="305.7" font-size="13" font-weight="bold" fill="#111" stroke="none">H</text>
<defs><linearGradient id="ag3" x1="0" y1="0" x2="0" y2="1"><stop offset="0" stop-color="#d4d4d4"/><stop offset="0.5" stop-color="#e4e4e4"/><stop offset="1" stop-color="#fafafa"/></linearGradient></defs>
<path d="M333.80,322.60 L340.30,329.10 L337.70,329.10 L337.70,388.00 L329.90,388.00 L329.90,329.10 L327.30,329.10 Z" fill="url(#ag3)"/>
<text x="0" y="0" font-size="7.0" fill="#444" stroke="#444" stroke-width="0.0" text-anchor="middle" transform="translate(335.00 356.00) rotate(-90) scale(0.9611 1)">CD38 expression</text>
<text x="0" y="0" font-size="6.6" fill="#333" stroke="#333" stroke-width="0.0" transform="translate(366.40 316.00) scale(0.9952 1)">Tumor cell killing - maximum (%)</text>
<line x1="379.90" y1="325.60" x2="379.90" y2="390.40" stroke="#222" stroke-width="1.25"/>
<line x1="379.90" y1="389.90" x2="441.50" y2="389.90" stroke="#222" stroke-width="1.25"/>
<line x1="376.70" y1="335.00" x2="379.90" y2="335.00" stroke="#222" stroke-width="1.25"/>
<text x="0" y="0" font-size="6.9" fill="#333" stroke="#333" stroke-width="0.0" text-anchor="end" transform="translate(374.30 337.50) scale(0.9540 1)">RPMI8226</text>
<line x1="376.70" y1="357.00" x2="379.90" y2="357.00" stroke="#222" stroke-width="1.25"/>
<text x="0" y="0" font-size="6.9" fill="#333" stroke="#333" stroke-width="0.0" text-anchor="end" transform="translate(374.30 359.50) scale(0.9553 1)">NCI-H929</text>
<line x1="376.70" y1="379.60" x2="379.90" y2="379.60" stroke="#222" stroke-width="1.25"/>
<text x="0" y="0" font-size="6.9" fill="#333" stroke="#333" stroke-width="0.0" text-anchor="end" transform="translate(374.30 382.10) scale(0.9662 1)">KMS-12-BM</text>
<line x1="379.90" y1="389.90" x2="379.90" y2="392.70" stroke="#222" stroke-width="1.25"/>
<text x="380.20" y="401.81" font-size="6.7" fill="#333" stroke="#333" stroke-width="0.08" text-anchor="middle">0</text>
<line x1="390.65" y1="389.90" x2="390.65" y2="392.70" stroke="#222" stroke-width="1.25"/>
<text x="390.95" y="401.81" font-size="6.7" fill="#333" stroke="#333" stroke-width="0.08" text-anchor="middle">20</text>
<line x1="401.40" y1="389.90" x2="401.40" y2="392.70" stroke="#222" stroke-width="1.25"/>
<text x="401.70" y="401.81" font-size="6.7" fill="#333" stroke="#333" stroke-width="0.08" text-anchor="middle">40</text>
<line x1="412.15" y1="389.90" x2="412.15" y2="392.70" stroke="#222" stroke-width="1.25"/>
<text x="412.45" y="401.81" font-size="6.7" fill="#333" stroke="#333" stroke-width="0.08" text-anchor="middle">60</text>
<line x1="422.90" y1="389.90" x2="422.90" y2="392.70" stroke="#222" stroke-width="1.25"/>
<text x="423.20" y="401.81" font-size="6.7" fill="#333" stroke="#333" stroke-width="0.08" text-anchor="middle">80</text>
<line x1="433.65" y1="389.90" x2="433.65" y2="392.70" stroke="#222" stroke-width="1.25"/>
<text x="433.95" y="401.81" font-size="6.7" fill="#333" stroke="#333" stroke-width="0.08" text-anchor="middle">100</text>
<line x1="441.20" y1="389.90" x2="441.20" y2="392.30" stroke="#222" stroke-width="1.25"/>
<text x="0" y="0" font-size="8.6" fill="#2a2a2a" stroke="#2a2a2a" stroke-width="0.22" transform="translate(388.20 414.40) scale(0.8517 1)">Maximum tumor</text>
<text x="0" y="0" font-size="8.6" fill="#2a2a2a" stroke="#2a2a2a" stroke-width="0.22" transform="translate(392.60 424.00) scale(0.8333 1)">cell killing (%)</text>
<circle cx="405.30" cy="329.20" r="1.05" fill="#8a1b2e"/>
<circle cx="407.70" cy="329.20" r="1.05" fill="#8a1b2e"/>
<circle cx="410.10" cy="329.40" r="1.05" fill="#8a1b2e"/>
<circle cx="413.30" cy="329.20" r="1.05" fill="#8a1b2e"/>
<circle cx="415.70" cy="329.40" r="1.05" fill="#8a1b2e"/>
<circle cx="423.00" cy="329.40" r="1.05" fill="#8a1b2e"/>
<circle cx="428.50" cy="329.20" r="1.05" fill="#8a1b2e"/>
<circle cx="408.50" cy="332.40" r="1.05" fill="#8a1b2e"/>
<circle cx="411.70" cy="332.20" r="1.05" fill="#8a1b2e"/>
<circle cx="414.90" cy="332.40" r="1.05" fill="#8a1b2e"/>
<circle cx="430.20" cy="332.40" r="1.05" fill="#8a1b2e"/>
<line x1="414.00" y1="328.40" x2="414.00" y2="333.40" stroke="#8a1b2e" stroke-width="0.7"/>
<circle cx="399.20" cy="340.60" r="1.10" fill="#3d8a3d"/>
<circle cx="400.60" cy="338.40" r="1.10" fill="#3d8a3d"/>
<circle cx="401.80" cy="340.20" r="1.10" fill="#3d8a3d"/>
<circle cx="402.80" cy="338.00" r="1.10" fill="#3d8a3d"/>
<circle cx="403.40" cy="341.00" r="1.10" fill="#3d8a3d"/>
<circle cx="404.60" cy="339.20" r="1.10" fill="#3d8a3d"/>
<circle cx="406.40" cy="339.80" r="1.10" fill="#3d8a3d"/>
<circle cx="408.60" cy="338.60" r="1.10" fill="#3d8a3d"/>
<circle cx="409.40" cy="337.60" r="1.10" fill="#3d8a3d"/>
<path d="M433.4,330.8 L441.4,330.8 L441.4,338.9 L412.5,338.9" stroke="#222" stroke-width="1.0" fill="none"/>
<circle cx="446.20" cy="334.80" r="0.75" fill="#333"/>
<circle cx="414.90" cy="352.50" r="1.05" fill="#8a1b2e"/>
<circle cx="417.30" cy="352.90" r="1.05" fill="#8a1b2e"/>
<circle cx="420.50" cy="352.50" r="1.05" fill="#8a1b2e"/>
<circle cx="427.40" cy="352.00" r="1.05" fill="#8a1b2e"/>
<circle cx="428.60" cy="354.60" r="1.05" fill="#8a1b2e"/>
<circle cx="430.00" cy="351.80" r="1.05" fill="#8a1b2e"/>
<circle cx="431.20" cy="354.40" r="1.05" fill="#8a1b2e"/>
<circle cx="432.60" cy="352.20" r="1.05" fill="#8a1b2e"/>
<circle cx="433.80" cy="354.20" r="1.05" fill="#8a1b2e"/>
<circle cx="429.40" cy="355.40" r="1.05" fill="#8a1b2e"/>
<circle cx="432.80" cy="355.40" r="1.05" fill="#8a1b2e"/>
<circle cx="394.00" cy="360.50" r="1.10" fill="#3d8a3d"/>
<circle cx="401.80" cy="359.40" r="1.10" fill="#3d8a3d"/>
<circle cx="401.80" cy="361.80" r="1.10" fill="#3d8a3d"/>
<circle cx="412.50" cy="360.50" r="1.10" fill="#3d8a3d"/>
<circle cx="418.40" cy="359.80" r="1.10" fill="#3d8a3d"/>
<circle cx="419.80" cy="361.40" r="1.10" fill="#3d8a3d"/>
<circle cx="421.00" cy="359.60" r="1.10" fill="#3d8a3d"/>
<circle cx="422.20" cy="361.00" r="1.10" fill="#3d8a3d"/>
<circle cx="428.50" cy="360.60" r="1.10" fill="#3d8a3d"/>
<line x1="412.50" y1="358.60" x2="412.50" y2="362.40" stroke="#3d8a3d" stroke-width="0.7"/>
<path d="M435.0,352.5 L441.7,352.5 L441.7,360.8 L431.8,360.8" stroke="#222" stroke-width="1.0" fill="none"/>
<circle cx="446.2" cy="355.4" r="0.7" fill="#333"/><circle cx="446.2" cy="358.2" r="0.7" fill="#333"/>
<circle cx="406.90" cy="374.20" r="1.05" fill="#8a1b2e"/>
<circle cx="409.30" cy="374.20" r="1.05" fill="#8a1b2e"/>
<circle cx="411.70" cy="374.20" r="1.05" fill="#8a1b2e"/>
<circle cx="405.30" cy="377.40" r="1.05" fill="#8a1b2e"/>
<circle cx="408.50" cy="377.40" r="1.05" fill="#8a1b2e"/>
<circle cx="411.70" cy="377.40" r="1.05" fill="#8a1b2e"/>
<circle cx="418.10" cy="375.80" r="1.05" fill="#8a1b2e"/>
<circle cx="426.10" cy="375.80" r="1.05" fill="#8a1b2e"/>
<circle cx="432.60" cy="375.80" r="1.05" fill="#8a1b2e"/>
<line x1="414.90" y1="373.80" x2="414.90" y2="378.00" stroke="#8a1b2e" stroke-width="0.7"/>
<circle cx="386.80" cy="383.80" r="1.10" fill="#3d8a3d"/>
<circle cx="394.80" cy="383.40" r="1.10" fill="#3d8a3d"/>
<circle cx="397.20" cy="385.40" r="1.10" fill="#3d8a3d"/>
<circle cx="406.90" cy="383.80" r="1.10" fill="#3d8a3d"/>
<circle cx="408.50" cy="383.80" r="1.10" fill="#3d8a3d"/>
<circle cx="410.10" cy="383.80" r="1.10" fill="#3d8a3d"/>
<line x1="404.50" y1="381.80" x2="404.50" y2="385.80" stroke="#3d8a3d" stroke-width="0.8"/>
<line x1="414.10" y1="383.80" x2="419.70" y2="383.80" stroke="#3d8a3d" stroke-width="1.8"/>
<path d="M436.6,374.6 L441.7,374.6 L441.7,383.8 L422.1,383.8" stroke="#222" stroke-width="1.0" fill="none"/>
<text x="446.40" y="381.27" font-size="6.3" fill="#333" stroke="#333" stroke-width="0.08" text-anchor="middle" transform="rotate(90 446.40 379.00)">ns</text>
<path d="M102,396 L106.5,401.2" stroke="#2a4c90" stroke-width="2.6" fill="none"/>
<path d="M104.5,398 L107.5,402.0" stroke="#ddd" stroke-width="1.2" fill="none"/>
<path d="M113.2,399.5 L111.0,402.2" stroke="#e070b0" stroke-width="2.0" fill="none"/>
<rect x="109.50" y="402.50" width="1.60" height="8.30" fill="#1a1a1a"/>
<rect x="109.00" y="401.50" width="2.60" height="2.50" fill="#e6e6e6"/>
<line x1="118.80" y1="406.60" x2="127.30" y2="406.60" stroke="#d63250" stroke-width="0.8"/>
<circle cx="123.10" cy="406.60" r="1.50" fill="#8a1b2e"/>
<text x="131.20" y="409.19" font-size="7.2" fill="#333" stroke="#333" stroke-width="0.08" textLength="25.3" lengthAdjust="spacingAndGlyphs">ISB 1342</text>
<path d="M102.5,413.2 L108,419.5" stroke="#c8c04a" stroke-width="2.6" fill="none"/>
<path d="M116.2,413.2 L110.8,419.5" stroke="#c8c04a" stroke-width="2.6" fill="none"/>
<rect x="108.80" y="420.50" width="1.60" height="8.00" fill="#1a1a1a"/>
<rect x="108.40" y="419.20" width="2.40" height="2.20" fill="#e6e6e6"/>
<line x1="118.80" y1="418.20" x2="127.30" y2="418.20" stroke="#5cbf5c" stroke-width="0.8"/>
<rect x="121.70" y="416.80" width="2.80" height="2.80" fill="#3d8a3d"/>
<text x="131.20" y="420.79" font-size="7.2" fill="#333" stroke="#333" stroke-width="0.08" textLength="42.3" lengthAdjust="spacingAndGlyphs">Daratumumab</text>
<circle cx="189.90" cy="407.30" r="1.45" fill="#444"/>
<text x="194.70" y="409.89" font-size="7.2" fill="#333" stroke="#333" stroke-width="0.08" textLength="49.3" lengthAdjust="spacingAndGlyphs">Isotype ISB 1342</text>
<rect x="188.50" y="416.30" width="2.80" height="2.80" fill="#d0d0d0" stroke="#666" stroke-width="0.6"/>
<text x="194.70" y="420.39" font-size="7.2" fill="#333" stroke="#333" stroke-width="0.08" textLength="65.3" lengthAdjust="spacingAndGlyphs">Isotype daratumumab</text>
</svg>
</body></html>
